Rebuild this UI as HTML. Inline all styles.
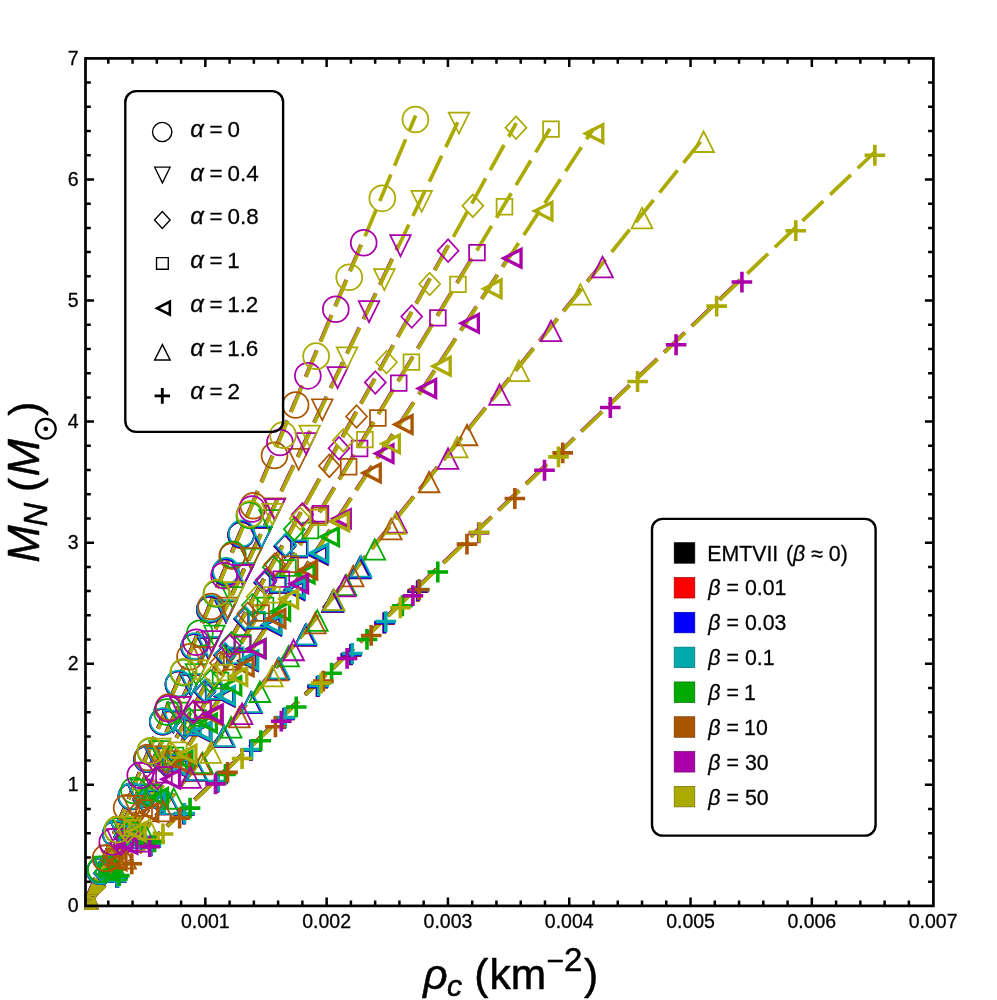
<!DOCTYPE html>
<html><head><meta charset="utf-8"><title>M_N vs rho_c</title>
<style>html,body{margin:0;padding:0;background:#fff;overflow:hidden}svg{display:block}text{font-family:"Liberation Sans",sans-serif;fill:#000;stroke:#000;stroke-width:.28px;stroke-linejoin:round}.ax text{stroke-width:.5px}.i{font-style:italic}</style></head><body>
<svg width="997" height="1000" viewBox="0 0 997 1000" style="will-change:transform">
<rect width="997" height="1000" fill="#fff"/>
<defs><clipPath id="pc"><rect x="84.4" y="55" width="852" height="854.8"/></clipPath></defs>
<g clip-path="url(#pc)">
<g fill="none" stroke-width="3.7" stroke-dasharray="28.7 9.45">
<path d="M84.19 904.38L240.87 530.92" stroke="#000000"/>
<path d="M84.19 904.54L259.25 537.34" stroke="#000000"/>
<path d="M84.19 904.69L284.58 541.7" stroke="#000000"/>
<path d="M84.19 904.77L297.45 548.96" stroke="#000000"/>
<path d="M84.19 904.85L316.7 550.17" stroke="#000000"/>
<path d="M84.19 905L356.31 567.73" stroke="#000000"/>
<path d="M84.19 905.16L417.93 586.98" stroke="#000000"/>
<path d="M84.19 904.38L240.94 530.75" stroke="#ff0000"/>
<path d="M84.19 904.54L259.34 537.17" stroke="#ff0000"/>
<path d="M84.19 904.69L284.67 541.53" stroke="#ff0000"/>
<path d="M84.19 904.77L297.55 548.79" stroke="#ff0000"/>
<path d="M84.19 904.85L316.81 550" stroke="#ff0000"/>
<path d="M84.19 905L356.45 567.56" stroke="#ff0000"/>
<path d="M84.19 905.16L418.1 586.81" stroke="#ff0000"/>
<path d="M84.19 904.38L241.08 530.42" stroke="#0000ff"/>
<path d="M84.19 904.54L259.49 536.84" stroke="#0000ff"/>
<path d="M84.19 904.69L284.85 541.2" stroke="#0000ff"/>
<path d="M84.19 904.77L297.74 548.46" stroke="#0000ff"/>
<path d="M84.19 904.85L317.02 549.67" stroke="#0000ff"/>
<path d="M84.19 905L356.72 567.23" stroke="#0000ff"/>
<path d="M84.19 905.16L418.45 586.48" stroke="#0000ff"/>
<path d="M84.19 904.38L241.56 529.27" stroke="#00aaaa"/>
<path d="M84.19 904.54L260.04 535.69" stroke="#00aaaa"/>
<path d="M84.19 904.69L285.49 540.05" stroke="#00aaaa"/>
<path d="M84.19 904.77L298.43 547.31" stroke="#00aaaa"/>
<path d="M84.19 904.85L317.78 548.52" stroke="#00aaaa"/>
<path d="M84.19 905L357.64 566.08" stroke="#00aaaa"/>
<path d="M84.19 905.16L419.65 585.33" stroke="#00aaaa"/>
<path d="M84.19 904.38L249.13 511.23" stroke="#00aa00"/>
<path d="M84.19 904.54L267.77 519.47" stroke="#00aa00"/>
<path d="M84.19 904.69L294.17 524.31" stroke="#00aa00"/>
<path d="M84.19 904.77L308.95 529.76" stroke="#00aa00"/>
<path d="M84.19 904.85L328.49 532.18" stroke="#00aa00"/>
<path d="M84.19 905L371.32 549.13" stroke="#00aa00"/>
<path d="M84.19 905.16L438.07 567.77" stroke="#00aa00"/>
<path d="M84.19 904.38L295.41 400.94" stroke="#aa5500"/>
<path d="M84.19 904.54L320.59 408.69" stroke="#aa5500"/>
<path d="M84.19 904.69L356.33 411.71" stroke="#aa5500"/>
<path d="M84.19 904.77L376.37 417.28" stroke="#aa5500"/>
<path d="M84.19 904.85L402.07 419.95" stroke="#aa5500"/>
<path d="M84.19 905L463.63 434.72" stroke="#aa5500"/>
<path d="M84.19 905.16L563.02 448.64" stroke="#aa5500"/>
<path d="M84.19 904.38L363.52 238.58" stroke="#aa00aa"/>
<path d="M84.19 904.54L398.8 244.64" stroke="#aa00aa"/>
<path d="M84.19 904.69L447.9 245.85" stroke="#aa00aa"/>
<path d="M84.19 904.77L475.49 251.9" stroke="#aa00aa"/>
<path d="M84.19 904.85L511.04 253.72" stroke="#aa00aa"/>
<path d="M84.19 905L599.12 266.79" stroke="#aa00aa"/>
<path d="M84.19 905.16L742.21 277.81" stroke="#aa00aa"/>
<path d="M84.59 904.6L415.63 115.56" stroke="#aaaa00"/>
<path d="M84.59 904.76L457.68 122.21" stroke="#aaaa00"/>
<path d="M84.59 904.91L516.2 123.06" stroke="#aaaa00"/>
<path d="M84.59 904.99L549.91 128.63" stroke="#aaaa00"/>
<path d="M84.59 905.07L593.19 129.24" stroke="#aaaa00"/>
<path d="M84.59 905.22L700.62 141.71" stroke="#aaaa00"/>
<path d="M84.59 905.38L875.56 151.27" stroke="#aaaa00"/>
</g>
<g>
<circle cx="84.39" cy="908.5" r="12.93" fill="none" stroke="#000000" stroke-width="1.75"/>
<circle cx="100.05" cy="871.15" r="12.93" fill="none" stroke="#000000" stroke-width="1.75"/>
<circle cx="115.72" cy="833.81" r="12.93" fill="none" stroke="#000000" stroke-width="1.75"/>
<circle cx="131.39" cy="796.46" r="12.93" fill="none" stroke="#000000" stroke-width="1.75"/>
<circle cx="147.06" cy="759.12" r="12.93" fill="none" stroke="#000000" stroke-width="1.75"/>
<circle cx="162.73" cy="721.77" r="12.93" fill="none" stroke="#000000" stroke-width="1.75"/>
<circle cx="178.4" cy="684.42" r="12.93" fill="none" stroke="#000000" stroke-width="1.75"/>
<circle cx="194.07" cy="647.08" r="12.93" fill="none" stroke="#000000" stroke-width="1.75"/>
<circle cx="209.74" cy="609.73" r="12.93" fill="none" stroke="#000000" stroke-width="1.75"/>
<circle cx="225.4" cy="572.39" r="12.93" fill="none" stroke="#000000" stroke-width="1.75"/>
<circle cx="241.07" cy="535.04" r="12.93" fill="none" stroke="#000000" stroke-width="1.75"/>
<polygon points="75.55,895.11 96.22,895.11 85.89,916.13" fill="none" stroke="#000000" stroke-width="1.7" stroke-linejoin="miter" stroke-miterlimit="10"/>
<polygon points="93.06,858.39 113.73,858.39 103.39,879.41" fill="none" stroke="#000000" stroke-width="1.7" stroke-linejoin="miter" stroke-miterlimit="10"/>
<polygon points="110.56,821.67 131.23,821.67 120.9,842.69" fill="none" stroke="#000000" stroke-width="1.7" stroke-linejoin="miter" stroke-miterlimit="10"/>
<polygon points="128.07,784.95 148.74,784.95 138.41,805.97" fill="none" stroke="#000000" stroke-width="1.7" stroke-linejoin="miter" stroke-miterlimit="10"/>
<polygon points="145.58,748.23 166.25,748.23 155.91,769.25" fill="none" stroke="#000000" stroke-width="1.7" stroke-linejoin="miter" stroke-miterlimit="10"/>
<polygon points="163.09,711.51 183.76,711.51 173.42,732.53" fill="none" stroke="#000000" stroke-width="1.7" stroke-linejoin="miter" stroke-miterlimit="10"/>
<polygon points="180.59,674.79 201.26,674.79 190.93,695.81" fill="none" stroke="#000000" stroke-width="1.7" stroke-linejoin="miter" stroke-miterlimit="10"/>
<polygon points="198.1,638.07 218.77,638.07 208.43,659.09" fill="none" stroke="#000000" stroke-width="1.7" stroke-linejoin="miter" stroke-miterlimit="10"/>
<polygon points="215.61,601.35 236.28,601.35 225.94,622.37" fill="none" stroke="#000000" stroke-width="1.7" stroke-linejoin="miter" stroke-miterlimit="10"/>
<polygon points="233.11,564.63 253.78,564.63 243.45,585.65" fill="none" stroke="#000000" stroke-width="1.7" stroke-linejoin="miter" stroke-miterlimit="10"/>
<polygon points="250.62,527.91 271.29,527.91 260.95,548.93" fill="none" stroke="#000000" stroke-width="1.7" stroke-linejoin="miter" stroke-miterlimit="10"/>
<polygon points="73.9,909.51 84.39,898.21 94.88,909.51 84.39,920.81" fill="none" stroke="#000000" stroke-width="1.7" stroke-linejoin="miter" stroke-miterlimit="10"/>
<polygon points="93.93,873.21 104.42,861.91 114.92,873.21 104.42,884.51" fill="none" stroke="#000000" stroke-width="1.7" stroke-linejoin="miter" stroke-miterlimit="10"/>
<polygon points="113.97,836.91 124.46,825.61 134.95,836.91 124.46,848.21" fill="none" stroke="#000000" stroke-width="1.7" stroke-linejoin="miter" stroke-miterlimit="10"/>
<polygon points="134.01,800.61 144.5,789.31 154.99,800.61 144.5,811.91" fill="none" stroke="#000000" stroke-width="1.7" stroke-linejoin="miter" stroke-miterlimit="10"/>
<polygon points="154.05,764.31 164.54,753.01 175.03,764.31 164.54,775.61" fill="none" stroke="#000000" stroke-width="1.7" stroke-linejoin="miter" stroke-miterlimit="10"/>
<polygon points="174.09,728.01 184.58,716.71 195.07,728.01 184.58,739.31" fill="none" stroke="#000000" stroke-width="1.7" stroke-linejoin="miter" stroke-miterlimit="10"/>
<polygon points="194.13,691.71 204.62,680.41 215.11,691.71 204.62,703.01" fill="none" stroke="#000000" stroke-width="1.7" stroke-linejoin="miter" stroke-miterlimit="10"/>
<polygon points="214.17,655.41 224.66,644.11 235.15,655.41 224.66,666.71" fill="none" stroke="#000000" stroke-width="1.7" stroke-linejoin="miter" stroke-miterlimit="10"/>
<polygon points="234.21,619.11 244.7,607.81 255.19,619.11 244.7,630.41" fill="none" stroke="#000000" stroke-width="1.7" stroke-linejoin="miter" stroke-miterlimit="10"/>
<polygon points="254.25,582.81 264.74,571.51 275.23,582.81 264.74,594.12" fill="none" stroke="#000000" stroke-width="1.7" stroke-linejoin="miter" stroke-miterlimit="10"/>
<polygon points="274.29,546.52 284.78,535.21 295.27,546.52 284.78,557.82" fill="none" stroke="#000000" stroke-width="1.7" stroke-linejoin="miter" stroke-miterlimit="10"/>
<polygon points="77.81,897.71 93.56,897.71 93.56,913.26 77.81,913.26" fill="none" stroke="#000000" stroke-width="1.75" stroke-linejoin="miter" stroke-miterlimit="10"/>
<polygon points="99.14,862.13 114.89,862.13 114.89,877.68 99.14,877.68" fill="none" stroke="#000000" stroke-width="1.75" stroke-linejoin="miter" stroke-miterlimit="10"/>
<polygon points="120.46,826.55 136.21,826.55 136.21,842.1 120.46,842.1" fill="none" stroke="#000000" stroke-width="1.75" stroke-linejoin="miter" stroke-miterlimit="10"/>
<polygon points="141.79,790.97 157.54,790.97 157.54,806.52 141.79,806.52" fill="none" stroke="#000000" stroke-width="1.75" stroke-linejoin="miter" stroke-miterlimit="10"/>
<polygon points="163.11,755.39 178.86,755.39 178.86,770.94 163.11,770.94" fill="none" stroke="#000000" stroke-width="1.75" stroke-linejoin="miter" stroke-miterlimit="10"/>
<polygon points="184.44,719.81 200.19,719.81 200.19,735.36 184.44,735.36" fill="none" stroke="#000000" stroke-width="1.75" stroke-linejoin="miter" stroke-miterlimit="10"/>
<polygon points="205.77,684.23 221.52,684.23 221.52,699.78 205.77,699.78" fill="none" stroke="#000000" stroke-width="1.75" stroke-linejoin="miter" stroke-miterlimit="10"/>
<polygon points="227.09,648.65 242.84,648.65 242.84,664.2 227.09,664.2" fill="none" stroke="#000000" stroke-width="1.75" stroke-linejoin="miter" stroke-miterlimit="10"/>
<polygon points="248.42,613.07 264.17,613.07 264.17,628.62 248.42,628.62" fill="none" stroke="#000000" stroke-width="1.75" stroke-linejoin="miter" stroke-miterlimit="10"/>
<polygon points="269.75,577.49 285.5,577.49 285.5,593.04 269.75,593.04" fill="none" stroke="#000000" stroke-width="1.75" stroke-linejoin="miter" stroke-miterlimit="10"/>
<polygon points="291.07,541.9 306.82,541.9 306.82,557.45 291.07,557.45" fill="none" stroke="#000000" stroke-width="1.75" stroke-linejoin="miter" stroke-miterlimit="10"/>
<polygon points="94.19,900.61 94.19,918.13 76.97,909.37" fill="none" stroke="#000000" stroke-width="3.3" stroke-linejoin="miter" stroke-miterlimit="10"/>
<polygon points="117.44,865.14 117.44,882.66 100.22,873.9" fill="none" stroke="#000000" stroke-width="3.3" stroke-linejoin="miter" stroke-miterlimit="10"/>
<polygon points="140.69,829.67 140.69,847.19 123.48,838.43" fill="none" stroke="#000000" stroke-width="3.3" stroke-linejoin="miter" stroke-miterlimit="10"/>
<polygon points="163.94,794.21 163.94,811.72 146.73,802.96" fill="none" stroke="#000000" stroke-width="3.3" stroke-linejoin="miter" stroke-miterlimit="10"/>
<polygon points="187.19,758.74 187.19,776.26 169.98,767.5" fill="none" stroke="#000000" stroke-width="3.3" stroke-linejoin="miter" stroke-miterlimit="10"/>
<polygon points="210.44,723.27 210.44,740.79 193.23,732.03" fill="none" stroke="#000000" stroke-width="3.3" stroke-linejoin="miter" stroke-miterlimit="10"/>
<polygon points="233.69,687.8 233.69,705.32 216.48,696.56" fill="none" stroke="#000000" stroke-width="3.3" stroke-linejoin="miter" stroke-miterlimit="10"/>
<polygon points="256.94,652.33 256.94,669.85 239.73,661.09" fill="none" stroke="#000000" stroke-width="3.3" stroke-linejoin="miter" stroke-miterlimit="10"/>
<polygon points="280.19,616.87 280.19,634.38 262.98,625.63" fill="none" stroke="#000000" stroke-width="3.3" stroke-linejoin="miter" stroke-miterlimit="10"/>
<polygon points="303.45,581.4 303.45,598.92 286.23,590.16" fill="none" stroke="#000000" stroke-width="3.3" stroke-linejoin="miter" stroke-miterlimit="10"/>
<polygon points="326.7,545.93 326.7,563.45 309.48,554.69" fill="none" stroke="#000000" stroke-width="3.3" stroke-linejoin="miter" stroke-miterlimit="10"/>
<polygon points="77.2,915.52 97.97,915.52 87.59,895.02" fill="none" stroke="#000000" stroke-width="1.8" stroke-linejoin="miter" stroke-miterlimit="10"/>
<polygon points="104.41,881.8 125.18,881.8 114.8,861.29" fill="none" stroke="#000000" stroke-width="1.8" stroke-linejoin="miter" stroke-miterlimit="10"/>
<polygon points="131.63,848.07 152.4,848.07 142.01,827.56" fill="none" stroke="#000000" stroke-width="1.8" stroke-linejoin="miter" stroke-miterlimit="10"/>
<polygon points="158.84,814.34 179.61,814.34 169.22,793.83" fill="none" stroke="#000000" stroke-width="1.8" stroke-linejoin="miter" stroke-miterlimit="10"/>
<polygon points="186.05,780.61 206.82,780.61 196.44,760.1" fill="none" stroke="#000000" stroke-width="1.8" stroke-linejoin="miter" stroke-miterlimit="10"/>
<polygon points="213.26,746.88 234.04,746.88 223.65,726.38" fill="none" stroke="#000000" stroke-width="1.8" stroke-linejoin="miter" stroke-miterlimit="10"/>
<polygon points="240.48,713.16 261.25,713.16 250.86,692.65" fill="none" stroke="#000000" stroke-width="1.8" stroke-linejoin="miter" stroke-miterlimit="10"/>
<polygon points="267.69,679.43 288.46,679.43 278.08,658.92" fill="none" stroke="#000000" stroke-width="1.8" stroke-linejoin="miter" stroke-miterlimit="10"/>
<polygon points="294.9,645.7 315.67,645.7 305.29,625.19" fill="none" stroke="#000000" stroke-width="1.8" stroke-linejoin="miter" stroke-miterlimit="10"/>
<polygon points="322.12,611.97 342.89,611.97 332.5,591.47" fill="none" stroke="#000000" stroke-width="1.8" stroke-linejoin="miter" stroke-miterlimit="10"/>
<polygon points="349.33,578.25 370.1,578.25 359.71,557.74" fill="none" stroke="#000000" stroke-width="1.8" stroke-linejoin="miter" stroke-miterlimit="10"/>
<path d="M73.59 909.38H94.19M83.89 898.98V919.78" fill="none" stroke="#000000" stroke-width="3.6"/>
<path d="M106.96 877.56H127.56M117.26 867.16V887.96" fill="none" stroke="#000000" stroke-width="3.6"/>
<path d="M140.33 845.74H160.93M150.63 835.34V856.14" fill="none" stroke="#000000" stroke-width="3.6"/>
<path d="M173.71 813.92H194.31M184.01 803.52V824.32" fill="none" stroke="#000000" stroke-width="3.6"/>
<path d="M207.08 782.11H227.68M217.38 771.71V792.51" fill="none" stroke="#000000" stroke-width="3.6"/>
<path d="M240.46 750.29H261.06M250.76 739.89V760.69" fill="none" stroke="#000000" stroke-width="3.6"/>
<path d="M273.83 718.47H294.43M284.13 708.07V728.87" fill="none" stroke="#000000" stroke-width="3.6"/>
<path d="M307.2 686.65H327.8M317.5 676.25V697.05" fill="none" stroke="#000000" stroke-width="3.6"/>
<path d="M340.58 654.83H361.18M350.88 644.43V665.23" fill="none" stroke="#000000" stroke-width="3.6"/>
<path d="M373.95 623.01H394.55M384.25 612.61V633.41" fill="none" stroke="#000000" stroke-width="3.6"/>
<path d="M407.33 591.2H427.93M417.63 580.8V601.6" fill="none" stroke="#000000" stroke-width="3.6"/>
<circle cx="84.39" cy="908.5" r="12.93" fill="none" stroke="#ff0000" stroke-width="1.75"/>
<circle cx="100.06" cy="871.14" r="12.93" fill="none" stroke="#ff0000" stroke-width="1.75"/>
<circle cx="115.74" cy="833.77" r="12.93" fill="none" stroke="#ff0000" stroke-width="1.75"/>
<circle cx="131.41" cy="796.41" r="12.93" fill="none" stroke="#ff0000" stroke-width="1.75"/>
<circle cx="147.09" cy="759.05" r="12.93" fill="none" stroke="#ff0000" stroke-width="1.75"/>
<circle cx="162.76" cy="721.68" r="12.93" fill="none" stroke="#ff0000" stroke-width="1.75"/>
<circle cx="178.44" cy="684.32" r="12.93" fill="none" stroke="#ff0000" stroke-width="1.75"/>
<circle cx="194.12" cy="646.96" r="12.93" fill="none" stroke="#ff0000" stroke-width="1.75"/>
<circle cx="209.79" cy="609.6" r="12.93" fill="none" stroke="#ff0000" stroke-width="1.75"/>
<circle cx="225.47" cy="572.23" r="12.93" fill="none" stroke="#ff0000" stroke-width="1.75"/>
<circle cx="241.14" cy="534.87" r="12.93" fill="none" stroke="#ff0000" stroke-width="1.75"/>
<polygon points="75.55,895.11 96.22,895.11 85.89,916.13" fill="none" stroke="#ff0000" stroke-width="1.7" stroke-linejoin="miter" stroke-miterlimit="10"/>
<polygon points="93.07,858.37 113.74,858.37 103.4,879.39" fill="none" stroke="#ff0000" stroke-width="1.7" stroke-linejoin="miter" stroke-miterlimit="10"/>
<polygon points="110.58,821.63 131.25,821.63 120.92,842.65" fill="none" stroke="#ff0000" stroke-width="1.7" stroke-linejoin="miter" stroke-miterlimit="10"/>
<polygon points="128.1,784.89 148.77,784.89 138.43,805.92" fill="none" stroke="#ff0000" stroke-width="1.7" stroke-linejoin="miter" stroke-miterlimit="10"/>
<polygon points="145.61,748.16 166.28,748.16 155.95,769.18" fill="none" stroke="#ff0000" stroke-width="1.7" stroke-linejoin="miter" stroke-miterlimit="10"/>
<polygon points="163.13,711.42 183.8,711.42 173.46,732.44" fill="none" stroke="#ff0000" stroke-width="1.7" stroke-linejoin="miter" stroke-miterlimit="10"/>
<polygon points="180.64,674.68 201.31,674.68 190.98,695.71" fill="none" stroke="#ff0000" stroke-width="1.7" stroke-linejoin="miter" stroke-miterlimit="10"/>
<polygon points="198.16,637.95 218.83,637.95 208.49,658.97" fill="none" stroke="#ff0000" stroke-width="1.7" stroke-linejoin="miter" stroke-miterlimit="10"/>
<polygon points="215.67,601.21 236.34,601.21 226.01,622.23" fill="none" stroke="#ff0000" stroke-width="1.7" stroke-linejoin="miter" stroke-miterlimit="10"/>
<polygon points="233.19,564.47 253.86,564.47 243.52,585.5" fill="none" stroke="#ff0000" stroke-width="1.7" stroke-linejoin="miter" stroke-miterlimit="10"/>
<polygon points="250.7,527.74 271.37,527.74 261.04,548.76" fill="none" stroke="#ff0000" stroke-width="1.7" stroke-linejoin="miter" stroke-miterlimit="10"/>
<polygon points="73.9,909.51 84.39,898.21 94.88,909.51 84.39,920.81" fill="none" stroke="#ff0000" stroke-width="1.7" stroke-linejoin="miter" stroke-miterlimit="10"/>
<polygon points="93.94,873.19 104.43,861.89 114.92,873.19 104.43,884.5" fill="none" stroke="#ff0000" stroke-width="1.7" stroke-linejoin="miter" stroke-miterlimit="10"/>
<polygon points="113.99,836.88 124.48,825.58 134.97,836.88 124.48,848.18" fill="none" stroke="#ff0000" stroke-width="1.7" stroke-linejoin="miter" stroke-miterlimit="10"/>
<polygon points="134.04,800.56 144.53,789.26 155.02,800.56 144.53,811.86" fill="none" stroke="#ff0000" stroke-width="1.7" stroke-linejoin="miter" stroke-miterlimit="10"/>
<polygon points="154.09,764.24 164.58,752.94 175.07,764.24 164.58,775.55" fill="none" stroke="#ff0000" stroke-width="1.7" stroke-linejoin="miter" stroke-miterlimit="10"/>
<polygon points="174.14,727.93 184.63,716.63 195.12,727.93 184.63,739.23" fill="none" stroke="#ff0000" stroke-width="1.7" stroke-linejoin="miter" stroke-miterlimit="10"/>
<polygon points="194.19,691.61 204.68,680.31 215.17,691.61 204.68,702.91" fill="none" stroke="#ff0000" stroke-width="1.7" stroke-linejoin="miter" stroke-miterlimit="10"/>
<polygon points="214.23,655.3 224.73,643.99 235.22,655.3 224.73,666.6" fill="none" stroke="#ff0000" stroke-width="1.7" stroke-linejoin="miter" stroke-miterlimit="10"/>
<polygon points="234.28,618.98 244.77,607.68 255.26,618.98 244.77,630.28" fill="none" stroke="#ff0000" stroke-width="1.7" stroke-linejoin="miter" stroke-miterlimit="10"/>
<polygon points="254.33,582.66 264.82,571.36 275.31,582.66 264.82,593.96" fill="none" stroke="#ff0000" stroke-width="1.7" stroke-linejoin="miter" stroke-miterlimit="10"/>
<polygon points="274.38,546.35 284.87,535.05 295.36,546.35 284.87,557.65" fill="none" stroke="#ff0000" stroke-width="1.7" stroke-linejoin="miter" stroke-miterlimit="10"/>
<polygon points="77.81,897.71 93.56,897.71 93.56,913.26 77.81,913.26" fill="none" stroke="#ff0000" stroke-width="1.75" stroke-linejoin="miter" stroke-miterlimit="10"/>
<polygon points="99.15,862.12 114.9,862.12 114.9,877.67 99.15,877.67" fill="none" stroke="#ff0000" stroke-width="1.75" stroke-linejoin="miter" stroke-miterlimit="10"/>
<polygon points="120.48,826.52 136.23,826.52 136.23,842.07 120.48,842.07" fill="none" stroke="#ff0000" stroke-width="1.75" stroke-linejoin="miter" stroke-miterlimit="10"/>
<polygon points="141.82,790.92 157.57,790.92 157.57,806.47 141.82,806.47" fill="none" stroke="#ff0000" stroke-width="1.75" stroke-linejoin="miter" stroke-miterlimit="10"/>
<polygon points="163.16,755.32 178.91,755.32 178.91,770.87 163.16,770.87" fill="none" stroke="#ff0000" stroke-width="1.75" stroke-linejoin="miter" stroke-miterlimit="10"/>
<polygon points="184.49,719.72 200.24,719.72 200.24,735.27 184.49,735.27" fill="none" stroke="#ff0000" stroke-width="1.75" stroke-linejoin="miter" stroke-miterlimit="10"/>
<polygon points="205.83,684.13 221.58,684.13 221.58,699.68 205.83,699.68" fill="none" stroke="#ff0000" stroke-width="1.75" stroke-linejoin="miter" stroke-miterlimit="10"/>
<polygon points="227.16,648.53 242.91,648.53 242.91,664.08 227.16,664.08" fill="none" stroke="#ff0000" stroke-width="1.75" stroke-linejoin="miter" stroke-miterlimit="10"/>
<polygon points="248.5,612.93 264.25,612.93 264.25,628.48 248.5,628.48" fill="none" stroke="#ff0000" stroke-width="1.75" stroke-linejoin="miter" stroke-miterlimit="10"/>
<polygon points="269.84,577.33 285.59,577.33 285.59,592.88 269.84,592.88" fill="none" stroke="#ff0000" stroke-width="1.75" stroke-linejoin="miter" stroke-miterlimit="10"/>
<polygon points="291.17,541.73 306.92,541.73 306.92,557.28 291.17,557.28" fill="none" stroke="#ff0000" stroke-width="1.75" stroke-linejoin="miter" stroke-miterlimit="10"/>
<polygon points="94.19,900.61 94.19,918.13 76.97,909.37" fill="none" stroke="#ff0000" stroke-width="3.3" stroke-linejoin="miter" stroke-miterlimit="10"/>
<polygon points="117.45,865.12 117.45,882.64 100.24,873.88" fill="none" stroke="#ff0000" stroke-width="3.3" stroke-linejoin="miter" stroke-miterlimit="10"/>
<polygon points="140.71,829.64 140.71,847.16 123.5,838.4" fill="none" stroke="#ff0000" stroke-width="3.3" stroke-linejoin="miter" stroke-miterlimit="10"/>
<polygon points="163.97,794.15 163.97,811.67 146.76,802.91" fill="none" stroke="#ff0000" stroke-width="3.3" stroke-linejoin="miter" stroke-miterlimit="10"/>
<polygon points="187.23,758.67 187.23,776.19 170.02,767.43" fill="none" stroke="#ff0000" stroke-width="3.3" stroke-linejoin="miter" stroke-miterlimit="10"/>
<polygon points="210.5,723.18 210.5,740.7 193.28,731.94" fill="none" stroke="#ff0000" stroke-width="3.3" stroke-linejoin="miter" stroke-miterlimit="10"/>
<polygon points="233.76,687.7 233.76,705.22 216.55,696.46" fill="none" stroke="#ff0000" stroke-width="3.3" stroke-linejoin="miter" stroke-miterlimit="10"/>
<polygon points="257.02,652.22 257.02,669.73 239.81,660.97" fill="none" stroke="#ff0000" stroke-width="3.3" stroke-linejoin="miter" stroke-miterlimit="10"/>
<polygon points="280.28,616.73 280.28,634.25 263.07,625.49" fill="none" stroke="#ff0000" stroke-width="3.3" stroke-linejoin="miter" stroke-miterlimit="10"/>
<polygon points="303.55,581.25 303.55,598.76 286.33,590.01" fill="none" stroke="#ff0000" stroke-width="3.3" stroke-linejoin="miter" stroke-miterlimit="10"/>
<polygon points="326.81,545.76 326.81,563.28 309.6,554.52" fill="none" stroke="#ff0000" stroke-width="3.3" stroke-linejoin="miter" stroke-miterlimit="10"/>
<polygon points="77.2,915.52 97.97,915.52 87.59,895.02" fill="none" stroke="#ff0000" stroke-width="1.8" stroke-linejoin="miter" stroke-miterlimit="10"/>
<polygon points="104.43,881.78 125.2,881.78 114.81,861.27" fill="none" stroke="#ff0000" stroke-width="1.8" stroke-linejoin="miter" stroke-miterlimit="10"/>
<polygon points="131.65,848.03 152.42,848.03 142.04,827.53" fill="none" stroke="#ff0000" stroke-width="1.8" stroke-linejoin="miter" stroke-miterlimit="10"/>
<polygon points="158.88,814.29 179.65,814.29 169.27,793.78" fill="none" stroke="#ff0000" stroke-width="1.8" stroke-linejoin="miter" stroke-miterlimit="10"/>
<polygon points="186.11,780.54 206.88,780.54 196.49,760.04" fill="none" stroke="#ff0000" stroke-width="1.8" stroke-linejoin="miter" stroke-miterlimit="10"/>
<polygon points="213.33,746.8 234.1,746.8 223.72,726.29" fill="none" stroke="#ff0000" stroke-width="1.8" stroke-linejoin="miter" stroke-miterlimit="10"/>
<polygon points="240.56,713.05 261.33,713.05 250.95,692.55" fill="none" stroke="#ff0000" stroke-width="1.8" stroke-linejoin="miter" stroke-miterlimit="10"/>
<polygon points="267.79,679.31 288.56,679.31 278.17,658.8" fill="none" stroke="#ff0000" stroke-width="1.8" stroke-linejoin="miter" stroke-miterlimit="10"/>
<polygon points="295.01,645.57 315.78,645.57 305.4,625.06" fill="none" stroke="#ff0000" stroke-width="1.8" stroke-linejoin="miter" stroke-miterlimit="10"/>
<polygon points="322.24,611.82 343.01,611.82 332.63,591.31" fill="none" stroke="#ff0000" stroke-width="1.8" stroke-linejoin="miter" stroke-miterlimit="10"/>
<polygon points="349.47,578.08 370.24,578.08 359.85,557.57" fill="none" stroke="#ff0000" stroke-width="1.8" stroke-linejoin="miter" stroke-miterlimit="10"/>
<path d="M73.59 909.38H94.19M83.89 898.98V919.78" fill="none" stroke="#ff0000" stroke-width="3.6"/>
<path d="M106.98 877.54H127.58M117.28 867.14V887.94" fill="none" stroke="#ff0000" stroke-width="3.6"/>
<path d="M140.37 845.71H160.97M150.67 835.31V856.11" fill="none" stroke="#ff0000" stroke-width="3.6"/>
<path d="M173.76 813.87H194.36M184.06 803.47V824.27" fill="none" stroke="#ff0000" stroke-width="3.6"/>
<path d="M207.15 782.04H227.75M217.45 771.64V792.44" fill="none" stroke="#ff0000" stroke-width="3.6"/>
<path d="M240.54 750.2H261.14M250.84 739.8V760.6" fill="none" stroke="#ff0000" stroke-width="3.6"/>
<path d="M273.94 718.37H294.54M284.24 707.97V728.77" fill="none" stroke="#ff0000" stroke-width="3.6"/>
<path d="M307.33 686.53H327.93M317.63 676.13V696.93" fill="none" stroke="#ff0000" stroke-width="3.6"/>
<path d="M340.72 654.7H361.32M351.02 644.3V665.1" fill="none" stroke="#ff0000" stroke-width="3.6"/>
<path d="M374.11 622.86H394.71M384.41 612.46V633.26" fill="none" stroke="#ff0000" stroke-width="3.6"/>
<path d="M407.5 591.03H428.1M417.8 580.63V601.43" fill="none" stroke="#ff0000" stroke-width="3.6"/>
<circle cx="84.39" cy="908.5" r="12.93" fill="none" stroke="#0000ff" stroke-width="1.75"/>
<circle cx="100.08" cy="871.1" r="12.93" fill="none" stroke="#0000ff" stroke-width="1.75"/>
<circle cx="115.76" cy="833.71" r="12.93" fill="none" stroke="#0000ff" stroke-width="1.75"/>
<circle cx="131.45" cy="796.31" r="12.93" fill="none" stroke="#0000ff" stroke-width="1.75"/>
<circle cx="147.14" cy="758.92" r="12.93" fill="none" stroke="#0000ff" stroke-width="1.75"/>
<circle cx="162.83" cy="721.52" r="12.93" fill="none" stroke="#0000ff" stroke-width="1.75"/>
<circle cx="178.52" cy="684.13" r="12.93" fill="none" stroke="#0000ff" stroke-width="1.75"/>
<circle cx="194.21" cy="646.73" r="12.93" fill="none" stroke="#0000ff" stroke-width="1.75"/>
<circle cx="209.9" cy="609.33" r="12.93" fill="none" stroke="#0000ff" stroke-width="1.75"/>
<circle cx="225.59" cy="571.94" r="12.93" fill="none" stroke="#0000ff" stroke-width="1.75"/>
<circle cx="241.28" cy="534.54" r="12.93" fill="none" stroke="#0000ff" stroke-width="1.75"/>
<polygon points="75.55,895.11 96.22,895.11 85.89,916.13" fill="none" stroke="#0000ff" stroke-width="1.7" stroke-linejoin="miter" stroke-miterlimit="10"/>
<polygon points="93.08,858.34 113.75,858.34 103.42,879.36" fill="none" stroke="#0000ff" stroke-width="1.7" stroke-linejoin="miter" stroke-miterlimit="10"/>
<polygon points="110.61,821.57 131.28,821.57 120.95,842.59" fill="none" stroke="#0000ff" stroke-width="1.7" stroke-linejoin="miter" stroke-miterlimit="10"/>
<polygon points="128.14,784.8 148.81,784.8 138.48,805.82" fill="none" stroke="#0000ff" stroke-width="1.7" stroke-linejoin="miter" stroke-miterlimit="10"/>
<polygon points="145.67,748.03 166.34,748.03 156.01,769.05" fill="none" stroke="#0000ff" stroke-width="1.7" stroke-linejoin="miter" stroke-miterlimit="10"/>
<polygon points="163.2,711.26 183.87,711.26 173.54,732.28" fill="none" stroke="#0000ff" stroke-width="1.7" stroke-linejoin="miter" stroke-miterlimit="10"/>
<polygon points="180.73,674.49 201.4,674.49 191.07,695.51" fill="none" stroke="#0000ff" stroke-width="1.7" stroke-linejoin="miter" stroke-miterlimit="10"/>
<polygon points="198.26,637.72 218.93,637.72 208.6,658.74" fill="none" stroke="#0000ff" stroke-width="1.7" stroke-linejoin="miter" stroke-miterlimit="10"/>
<polygon points="215.8,600.95 236.47,600.95 226.13,621.97" fill="none" stroke="#0000ff" stroke-width="1.7" stroke-linejoin="miter" stroke-miterlimit="10"/>
<polygon points="233.33,564.18 254,564.18 243.66,585.2" fill="none" stroke="#0000ff" stroke-width="1.7" stroke-linejoin="miter" stroke-miterlimit="10"/>
<polygon points="250.86,527.41 271.53,527.41 261.19,548.43" fill="none" stroke="#0000ff" stroke-width="1.7" stroke-linejoin="miter" stroke-miterlimit="10"/>
<polygon points="73.9,909.51 84.39,898.21 94.88,909.51 84.39,920.81" fill="none" stroke="#0000ff" stroke-width="1.7" stroke-linejoin="miter" stroke-miterlimit="10"/>
<polygon points="93.96,873.16 104.45,861.86 114.94,873.16 104.45,884.46" fill="none" stroke="#0000ff" stroke-width="1.7" stroke-linejoin="miter" stroke-miterlimit="10"/>
<polygon points="114.03,836.81 124.52,825.51 135.01,836.81 124.52,848.11" fill="none" stroke="#0000ff" stroke-width="1.7" stroke-linejoin="miter" stroke-miterlimit="10"/>
<polygon points="134.1,800.46 144.59,789.16 155.08,800.46 144.59,811.76" fill="none" stroke="#0000ff" stroke-width="1.7" stroke-linejoin="miter" stroke-miterlimit="10"/>
<polygon points="154.16,764.11 164.65,752.81 175.14,764.11 164.65,775.41" fill="none" stroke="#0000ff" stroke-width="1.7" stroke-linejoin="miter" stroke-miterlimit="10"/>
<polygon points="174.23,727.76 184.72,716.46 195.21,727.76 184.72,739.07" fill="none" stroke="#0000ff" stroke-width="1.7" stroke-linejoin="miter" stroke-miterlimit="10"/>
<polygon points="194.29,691.42 204.78,680.12 215.28,691.42 204.78,702.72" fill="none" stroke="#0000ff" stroke-width="1.7" stroke-linejoin="miter" stroke-miterlimit="10"/>
<polygon points="214.36,655.07 224.85,643.77 235.34,655.07 224.85,666.37" fill="none" stroke="#0000ff" stroke-width="1.7" stroke-linejoin="miter" stroke-miterlimit="10"/>
<polygon points="234.43,618.72 244.92,607.42 255.41,618.72 244.92,630.02" fill="none" stroke="#0000ff" stroke-width="1.7" stroke-linejoin="miter" stroke-miterlimit="10"/>
<polygon points="254.49,582.37 264.98,571.07 275.47,582.37 264.98,593.67" fill="none" stroke="#0000ff" stroke-width="1.7" stroke-linejoin="miter" stroke-miterlimit="10"/>
<polygon points="274.56,546.02 285.05,534.72 295.54,546.02 285.05,557.32" fill="none" stroke="#0000ff" stroke-width="1.7" stroke-linejoin="miter" stroke-miterlimit="10"/>
<polygon points="77.81,897.71 93.56,897.71 93.56,913.26 77.81,913.26" fill="none" stroke="#0000ff" stroke-width="1.75" stroke-linejoin="miter" stroke-miterlimit="10"/>
<polygon points="99.17,862.08 114.92,862.08 114.92,877.63 99.17,877.63" fill="none" stroke="#0000ff" stroke-width="1.75" stroke-linejoin="miter" stroke-miterlimit="10"/>
<polygon points="120.52,826.45 136.27,826.45 136.27,842 120.52,842" fill="none" stroke="#0000ff" stroke-width="1.75" stroke-linejoin="miter" stroke-miterlimit="10"/>
<polygon points="141.88,790.82 157.63,790.82 157.63,806.37 141.88,806.37" fill="none" stroke="#0000ff" stroke-width="1.75" stroke-linejoin="miter" stroke-miterlimit="10"/>
<polygon points="163.23,755.19 178.98,755.19 178.98,770.74 163.23,770.74" fill="none" stroke="#0000ff" stroke-width="1.75" stroke-linejoin="miter" stroke-miterlimit="10"/>
<polygon points="184.59,719.56 200.34,719.56 200.34,735.11 184.59,735.11" fill="none" stroke="#0000ff" stroke-width="1.75" stroke-linejoin="miter" stroke-miterlimit="10"/>
<polygon points="205.95,683.93 221.7,683.93 221.7,699.48 205.95,699.48" fill="none" stroke="#0000ff" stroke-width="1.75" stroke-linejoin="miter" stroke-miterlimit="10"/>
<polygon points="227.3,648.3 243.05,648.3 243.05,663.85 227.3,663.85" fill="none" stroke="#0000ff" stroke-width="1.75" stroke-linejoin="miter" stroke-miterlimit="10"/>
<polygon points="248.66,612.67 264.41,612.67 264.41,628.22 248.66,628.22" fill="none" stroke="#0000ff" stroke-width="1.75" stroke-linejoin="miter" stroke-miterlimit="10"/>
<polygon points="270.01,577.04 285.76,577.04 285.76,592.59 270.01,592.59" fill="none" stroke="#0000ff" stroke-width="1.75" stroke-linejoin="miter" stroke-miterlimit="10"/>
<polygon points="291.37,541.41 307.12,541.41 307.12,556.96 291.37,556.96" fill="none" stroke="#0000ff" stroke-width="1.75" stroke-linejoin="miter" stroke-miterlimit="10"/>
<polygon points="94.19,900.61 94.19,918.13 76.97,909.37" fill="none" stroke="#0000ff" stroke-width="3.3" stroke-linejoin="miter" stroke-miterlimit="10"/>
<polygon points="117.47,865.09 117.47,882.61 100.26,873.85" fill="none" stroke="#0000ff" stroke-width="3.3" stroke-linejoin="miter" stroke-miterlimit="10"/>
<polygon points="140.75,829.57 140.75,847.09 123.54,838.33" fill="none" stroke="#0000ff" stroke-width="3.3" stroke-linejoin="miter" stroke-miterlimit="10"/>
<polygon points="164.04,794.06 164.04,811.57 146.82,802.82" fill="none" stroke="#0000ff" stroke-width="3.3" stroke-linejoin="miter" stroke-miterlimit="10"/>
<polygon points="187.32,758.54 187.32,776.06 170.11,767.3" fill="none" stroke="#0000ff" stroke-width="3.3" stroke-linejoin="miter" stroke-miterlimit="10"/>
<polygon points="210.6,723.02 210.6,740.54 193.39,731.78" fill="none" stroke="#0000ff" stroke-width="3.3" stroke-linejoin="miter" stroke-miterlimit="10"/>
<polygon points="233.89,687.5 233.89,705.02 216.68,696.26" fill="none" stroke="#0000ff" stroke-width="3.3" stroke-linejoin="miter" stroke-miterlimit="10"/>
<polygon points="257.17,651.99 257.17,669.5 239.96,660.75" fill="none" stroke="#0000ff" stroke-width="3.3" stroke-linejoin="miter" stroke-miterlimit="10"/>
<polygon points="280.45,616.47 280.45,633.99 263.24,625.23" fill="none" stroke="#0000ff" stroke-width="3.3" stroke-linejoin="miter" stroke-miterlimit="10"/>
<polygon points="303.74,580.95 303.74,598.47 286.53,589.71" fill="none" stroke="#0000ff" stroke-width="3.3" stroke-linejoin="miter" stroke-miterlimit="10"/>
<polygon points="327.02,545.43 327.02,562.95 309.81,554.19" fill="none" stroke="#0000ff" stroke-width="3.3" stroke-linejoin="miter" stroke-miterlimit="10"/>
<polygon points="77.2,915.52 97.97,915.52 87.59,895.02" fill="none" stroke="#0000ff" stroke-width="1.8" stroke-linejoin="miter" stroke-miterlimit="10"/>
<polygon points="104.45,881.75 125.22,881.75 114.84,861.24" fill="none" stroke="#0000ff" stroke-width="1.8" stroke-linejoin="miter" stroke-miterlimit="10"/>
<polygon points="131.71,847.97 152.48,847.97 142.09,827.46" fill="none" stroke="#0000ff" stroke-width="1.8" stroke-linejoin="miter" stroke-miterlimit="10"/>
<polygon points="158.96,814.19 179.73,814.19 169.34,793.68" fill="none" stroke="#0000ff" stroke-width="1.8" stroke-linejoin="miter" stroke-miterlimit="10"/>
<polygon points="186.21,780.41 206.98,780.41 196.6,759.91" fill="none" stroke="#0000ff" stroke-width="1.8" stroke-linejoin="miter" stroke-miterlimit="10"/>
<polygon points="213.47,746.64 234.24,746.64 223.85,726.13" fill="none" stroke="#0000ff" stroke-width="1.8" stroke-linejoin="miter" stroke-miterlimit="10"/>
<polygon points="240.72,712.86 261.49,712.86 251.1,692.35" fill="none" stroke="#0000ff" stroke-width="1.8" stroke-linejoin="miter" stroke-miterlimit="10"/>
<polygon points="267.97,679.08 288.74,679.08 278.36,658.57" fill="none" stroke="#0000ff" stroke-width="1.8" stroke-linejoin="miter" stroke-miterlimit="10"/>
<polygon points="295.22,645.3 315.99,645.3 305.61,624.8" fill="none" stroke="#0000ff" stroke-width="1.8" stroke-linejoin="miter" stroke-miterlimit="10"/>
<polygon points="322.48,611.53 343.25,611.53 332.86,591.02" fill="none" stroke="#0000ff" stroke-width="1.8" stroke-linejoin="miter" stroke-miterlimit="10"/>
<polygon points="349.73,577.75 370.5,577.75 360.12,557.24" fill="none" stroke="#0000ff" stroke-width="1.8" stroke-linejoin="miter" stroke-miterlimit="10"/>
<path d="M73.59 909.38H94.19M83.89 898.98V919.78" fill="none" stroke="#0000ff" stroke-width="3.6"/>
<path d="M107.01 877.51H127.61M117.31 867.11V887.91" fill="none" stroke="#0000ff" stroke-width="3.6"/>
<path d="M140.44 845.64H161.04M150.74 835.24V856.04" fill="none" stroke="#0000ff" stroke-width="3.6"/>
<path d="M173.86 813.78H194.46M184.16 803.38V824.18" fill="none" stroke="#0000ff" stroke-width="3.6"/>
<path d="M207.29 781.91H227.89M217.59 771.51V792.31" fill="none" stroke="#0000ff" stroke-width="3.6"/>
<path d="M240.72 750.04H261.32M251.02 739.64V760.44" fill="none" stroke="#0000ff" stroke-width="3.6"/>
<path d="M274.14 718.17H294.74M284.44 707.77V728.57" fill="none" stroke="#0000ff" stroke-width="3.6"/>
<path d="M307.57 686.3H328.17M317.87 675.9V696.7" fill="none" stroke="#0000ff" stroke-width="3.6"/>
<path d="M340.99 654.44H361.59M351.29 644.04V664.84" fill="none" stroke="#0000ff" stroke-width="3.6"/>
<path d="M374.42 622.57H395.02M384.72 612.17V632.97" fill="none" stroke="#0000ff" stroke-width="3.6"/>
<path d="M407.85 590.7H428.45M418.15 580.3V601.1" fill="none" stroke="#0000ff" stroke-width="3.6"/>
<circle cx="84.39" cy="908.5" r="12.93" fill="none" stroke="#00aaaa" stroke-width="1.75"/>
<circle cx="100.12" cy="870.99" r="12.93" fill="none" stroke="#00aaaa" stroke-width="1.75"/>
<circle cx="115.86" cy="833.48" r="12.93" fill="none" stroke="#00aaaa" stroke-width="1.75"/>
<circle cx="131.6" cy="795.97" r="12.93" fill="none" stroke="#00aaaa" stroke-width="1.75"/>
<circle cx="147.34" cy="758.46" r="12.93" fill="none" stroke="#00aaaa" stroke-width="1.75"/>
<circle cx="163.07" cy="720.95" r="12.93" fill="none" stroke="#00aaaa" stroke-width="1.75"/>
<circle cx="178.81" cy="683.44" r="12.93" fill="none" stroke="#00aaaa" stroke-width="1.75"/>
<circle cx="194.55" cy="645.93" r="12.93" fill="none" stroke="#00aaaa" stroke-width="1.75"/>
<circle cx="210.29" cy="608.41" r="12.93" fill="none" stroke="#00aaaa" stroke-width="1.75"/>
<circle cx="226.03" cy="570.9" r="12.93" fill="none" stroke="#00aaaa" stroke-width="1.75"/>
<circle cx="241.76" cy="533.39" r="12.93" fill="none" stroke="#00aaaa" stroke-width="1.75"/>
<polygon points="75.55,895.11 96.22,895.11 85.89,916.13" fill="none" stroke="#00aaaa" stroke-width="1.7" stroke-linejoin="miter" stroke-miterlimit="10"/>
<polygon points="93.14,858.22 113.81,858.22 103.47,879.24" fill="none" stroke="#00aaaa" stroke-width="1.7" stroke-linejoin="miter" stroke-miterlimit="10"/>
<polygon points="110.72,821.34 131.39,821.34 121.06,842.36" fill="none" stroke="#00aaaa" stroke-width="1.7" stroke-linejoin="miter" stroke-miterlimit="10"/>
<polygon points="128.31,784.45 148.98,784.45 138.64,805.47" fill="none" stroke="#00aaaa" stroke-width="1.7" stroke-linejoin="miter" stroke-miterlimit="10"/>
<polygon points="145.89,747.57 166.56,747.57 156.23,768.59" fill="none" stroke="#00aaaa" stroke-width="1.7" stroke-linejoin="miter" stroke-miterlimit="10"/>
<polygon points="163.48,710.68 184.15,710.68 173.81,731.71" fill="none" stroke="#00aaaa" stroke-width="1.7" stroke-linejoin="miter" stroke-miterlimit="10"/>
<polygon points="181.06,673.8 201.73,673.8 191.4,694.82" fill="none" stroke="#00aaaa" stroke-width="1.7" stroke-linejoin="miter" stroke-miterlimit="10"/>
<polygon points="198.65,636.91 219.32,636.91 208.98,657.94" fill="none" stroke="#00aaaa" stroke-width="1.7" stroke-linejoin="miter" stroke-miterlimit="10"/>
<polygon points="216.23,600.03 236.9,600.03 226.57,621.05" fill="none" stroke="#00aaaa" stroke-width="1.7" stroke-linejoin="miter" stroke-miterlimit="10"/>
<polygon points="233.82,563.14 254.49,563.14 244.15,584.17" fill="none" stroke="#00aaaa" stroke-width="1.7" stroke-linejoin="miter" stroke-miterlimit="10"/>
<polygon points="251.4,526.26 272.07,526.26 261.74,547.28" fill="none" stroke="#00aaaa" stroke-width="1.7" stroke-linejoin="miter" stroke-miterlimit="10"/>
<polygon points="73.9,909.51 84.39,898.21 94.88,909.51 84.39,920.81" fill="none" stroke="#00aaaa" stroke-width="1.7" stroke-linejoin="miter" stroke-miterlimit="10"/>
<polygon points="94.03,873.05 104.52,861.75 115.01,873.05 104.52,884.35" fill="none" stroke="#00aaaa" stroke-width="1.7" stroke-linejoin="miter" stroke-miterlimit="10"/>
<polygon points="114.16,836.58 124.65,825.28 135.14,836.58 124.65,847.88" fill="none" stroke="#00aaaa" stroke-width="1.7" stroke-linejoin="miter" stroke-miterlimit="10"/>
<polygon points="134.29,800.12 144.78,788.82 155.27,800.12 144.78,811.42" fill="none" stroke="#00aaaa" stroke-width="1.7" stroke-linejoin="miter" stroke-miterlimit="10"/>
<polygon points="154.42,763.65 164.91,752.35 175.4,763.65 164.91,774.95" fill="none" stroke="#00aaaa" stroke-width="1.7" stroke-linejoin="miter" stroke-miterlimit="10"/>
<polygon points="174.55,727.19 185.04,715.89 195.53,727.19 185.04,738.49" fill="none" stroke="#00aaaa" stroke-width="1.7" stroke-linejoin="miter" stroke-miterlimit="10"/>
<polygon points="194.68,690.73 205.17,679.43 215.66,690.73 205.17,702.03" fill="none" stroke="#00aaaa" stroke-width="1.7" stroke-linejoin="miter" stroke-miterlimit="10"/>
<polygon points="214.81,654.26 225.3,642.96 235.79,654.26 225.3,665.56" fill="none" stroke="#00aaaa" stroke-width="1.7" stroke-linejoin="miter" stroke-miterlimit="10"/>
<polygon points="234.94,617.8 245.43,606.5 255.92,617.8 245.43,629.1" fill="none" stroke="#00aaaa" stroke-width="1.7" stroke-linejoin="miter" stroke-miterlimit="10"/>
<polygon points="255.07,581.33 265.56,570.03 276.05,581.33 265.56,592.63" fill="none" stroke="#00aaaa" stroke-width="1.7" stroke-linejoin="miter" stroke-miterlimit="10"/>
<polygon points="275.2,544.87 285.69,533.57 296.18,544.87 285.69,556.17" fill="none" stroke="#00aaaa" stroke-width="1.7" stroke-linejoin="miter" stroke-miterlimit="10"/>
<polygon points="77.81,897.71 93.56,897.71 93.56,913.26 77.81,913.26" fill="none" stroke="#00aaaa" stroke-width="1.75" stroke-linejoin="miter" stroke-miterlimit="10"/>
<polygon points="99.24,861.97 114.99,861.97 114.99,877.52 99.24,877.52" fill="none" stroke="#00aaaa" stroke-width="1.75" stroke-linejoin="miter" stroke-miterlimit="10"/>
<polygon points="120.66,826.22 136.41,826.22 136.41,841.77 120.66,841.77" fill="none" stroke="#00aaaa" stroke-width="1.75" stroke-linejoin="miter" stroke-miterlimit="10"/>
<polygon points="142.08,790.48 157.83,790.48 157.83,806.03 142.08,806.03" fill="none" stroke="#00aaaa" stroke-width="1.75" stroke-linejoin="miter" stroke-miterlimit="10"/>
<polygon points="163.51,754.73 179.26,754.73 179.26,770.28 163.51,770.28" fill="none" stroke="#00aaaa" stroke-width="1.75" stroke-linejoin="miter" stroke-miterlimit="10"/>
<polygon points="184.93,718.99 200.68,718.99 200.68,734.54 184.93,734.54" fill="none" stroke="#00aaaa" stroke-width="1.75" stroke-linejoin="miter" stroke-miterlimit="10"/>
<polygon points="206.36,683.24 222.11,683.24 222.11,698.79 206.36,698.79" fill="none" stroke="#00aaaa" stroke-width="1.75" stroke-linejoin="miter" stroke-miterlimit="10"/>
<polygon points="227.78,647.49 243.53,647.49 243.53,663.04 227.78,663.04" fill="none" stroke="#00aaaa" stroke-width="1.75" stroke-linejoin="miter" stroke-miterlimit="10"/>
<polygon points="249.21,611.75 264.96,611.75 264.96,627.3 249.21,627.3" fill="none" stroke="#00aaaa" stroke-width="1.75" stroke-linejoin="miter" stroke-miterlimit="10"/>
<polygon points="270.63,576 286.38,576 286.38,591.55 270.63,591.55" fill="none" stroke="#00aaaa" stroke-width="1.75" stroke-linejoin="miter" stroke-miterlimit="10"/>
<polygon points="292.06,540.26 307.81,540.26 307.81,555.81 292.06,555.81" fill="none" stroke="#00aaaa" stroke-width="1.75" stroke-linejoin="miter" stroke-miterlimit="10"/>
<polygon points="94.19,900.61 94.19,918.13 76.97,909.37" fill="none" stroke="#00aaaa" stroke-width="3.3" stroke-linejoin="miter" stroke-miterlimit="10"/>
<polygon points="117.54,864.98 117.54,882.49 100.33,873.73" fill="none" stroke="#00aaaa" stroke-width="3.3" stroke-linejoin="miter" stroke-miterlimit="10"/>
<polygon points="140.9,829.34 140.9,846.86 123.69,838.1" fill="none" stroke="#00aaaa" stroke-width="3.3" stroke-linejoin="miter" stroke-miterlimit="10"/>
<polygon points="164.26,793.71 164.26,811.23 147.05,802.47" fill="none" stroke="#00aaaa" stroke-width="3.3" stroke-linejoin="miter" stroke-miterlimit="10"/>
<polygon points="187.62,758.08 187.62,775.6 170.41,766.84" fill="none" stroke="#00aaaa" stroke-width="3.3" stroke-linejoin="miter" stroke-miterlimit="10"/>
<polygon points="210.98,722.45 210.98,739.96 193.77,731.21" fill="none" stroke="#00aaaa" stroke-width="3.3" stroke-linejoin="miter" stroke-miterlimit="10"/>
<polygon points="234.34,686.81 234.34,704.33 217.13,695.57" fill="none" stroke="#00aaaa" stroke-width="3.3" stroke-linejoin="miter" stroke-miterlimit="10"/>
<polygon points="257.7,651.18 257.7,668.7 240.49,659.94" fill="none" stroke="#00aaaa" stroke-width="3.3" stroke-linejoin="miter" stroke-miterlimit="10"/>
<polygon points="281.06,615.55 281.06,633.07 263.85,624.31" fill="none" stroke="#00aaaa" stroke-width="3.3" stroke-linejoin="miter" stroke-miterlimit="10"/>
<polygon points="304.42,579.92 304.42,597.43 287.21,588.68" fill="none" stroke="#00aaaa" stroke-width="3.3" stroke-linejoin="miter" stroke-miterlimit="10"/>
<polygon points="327.78,544.28 327.78,561.8 310.56,553.04" fill="none" stroke="#00aaaa" stroke-width="3.3" stroke-linejoin="miter" stroke-miterlimit="10"/>
<polygon points="77.2,915.52 97.97,915.52 87.59,895.02" fill="none" stroke="#00aaaa" stroke-width="1.8" stroke-linejoin="miter" stroke-miterlimit="10"/>
<polygon points="104.55,881.63 125.32,881.63 114.93,861.12" fill="none" stroke="#00aaaa" stroke-width="1.8" stroke-linejoin="miter" stroke-miterlimit="10"/>
<polygon points="131.89,847.74 152.66,847.74 142.28,827.23" fill="none" stroke="#00aaaa" stroke-width="1.8" stroke-linejoin="miter" stroke-miterlimit="10"/>
<polygon points="159.24,813.85 180.01,813.85 169.62,793.34" fill="none" stroke="#00aaaa" stroke-width="1.8" stroke-linejoin="miter" stroke-miterlimit="10"/>
<polygon points="186.58,779.95 207.35,779.95 196.97,759.45" fill="none" stroke="#00aaaa" stroke-width="1.8" stroke-linejoin="miter" stroke-miterlimit="10"/>
<polygon points="213.93,746.06 234.7,746.06 224.31,725.55" fill="none" stroke="#00aaaa" stroke-width="1.8" stroke-linejoin="miter" stroke-miterlimit="10"/>
<polygon points="241.27,712.17 262.05,712.17 251.66,691.66" fill="none" stroke="#00aaaa" stroke-width="1.8" stroke-linejoin="miter" stroke-miterlimit="10"/>
<polygon points="268.62,678.28 289.39,678.28 279.01,657.77" fill="none" stroke="#00aaaa" stroke-width="1.8" stroke-linejoin="miter" stroke-miterlimit="10"/>
<polygon points="295.97,644.38 316.74,644.38 306.35,623.88" fill="none" stroke="#00aaaa" stroke-width="1.8" stroke-linejoin="miter" stroke-miterlimit="10"/>
<polygon points="323.31,610.49 344.08,610.49 333.7,589.98" fill="none" stroke="#00aaaa" stroke-width="1.8" stroke-linejoin="miter" stroke-miterlimit="10"/>
<polygon points="350.66,576.6 371.43,576.6 361.04,556.09" fill="none" stroke="#00aaaa" stroke-width="1.8" stroke-linejoin="miter" stroke-miterlimit="10"/>
<path d="M73.59 909.38H94.19M83.89 898.98V919.78" fill="none" stroke="#00aaaa" stroke-width="3.6"/>
<path d="M107.13 877.4H127.73M117.43 867V887.8" fill="none" stroke="#00aaaa" stroke-width="3.6"/>
<path d="M140.68 845.41H161.28M150.98 835.01V855.81" fill="none" stroke="#00aaaa" stroke-width="3.6"/>
<path d="M174.23 813.43H194.83M184.53 803.03V823.83" fill="none" stroke="#00aaaa" stroke-width="3.6"/>
<path d="M207.77 781.45H228.37M218.07 771.05V791.85" fill="none" stroke="#00aaaa" stroke-width="3.6"/>
<path d="M241.32 749.46H261.92M251.62 739.06V759.86" fill="none" stroke="#00aaaa" stroke-width="3.6"/>
<path d="M274.87 717.48H295.47M285.17 707.08V727.88" fill="none" stroke="#00aaaa" stroke-width="3.6"/>
<path d="M308.41 685.5H329.01M318.71 675.1V695.9" fill="none" stroke="#00aaaa" stroke-width="3.6"/>
<path d="M341.96 653.51H362.56M352.26 643.11V663.91" fill="none" stroke="#00aaaa" stroke-width="3.6"/>
<path d="M375.51 621.53H396.11M385.81 611.13V631.93" fill="none" stroke="#00aaaa" stroke-width="3.6"/>
<path d="M409.05 589.55H429.65M419.35 579.15V599.95" fill="none" stroke="#00aaaa" stroke-width="3.6"/>
<circle cx="84.39" cy="908.5" r="12.93" fill="none" stroke="#00aa00" stroke-width="1.75"/>
<circle cx="100.88" cy="869.18" r="12.93" fill="none" stroke="#00aa00" stroke-width="1.75"/>
<circle cx="117.38" cy="829.87" r="12.93" fill="none" stroke="#00aa00" stroke-width="1.75"/>
<circle cx="133.87" cy="790.56" r="12.93" fill="none" stroke="#00aa00" stroke-width="1.75"/>
<circle cx="150.36" cy="751.24" r="12.93" fill="none" stroke="#00aa00" stroke-width="1.75"/>
<circle cx="166.86" cy="711.93" r="12.93" fill="none" stroke="#00aa00" stroke-width="1.75"/>
<circle cx="183.35" cy="672.61" r="12.93" fill="none" stroke="#00aa00" stroke-width="1.75"/>
<circle cx="199.85" cy="633.3" r="12.93" fill="none" stroke="#00aa00" stroke-width="1.75"/>
<circle cx="216.34" cy="593.98" r="12.93" fill="none" stroke="#00aa00" stroke-width="1.75"/>
<circle cx="232.84" cy="554.67" r="12.93" fill="none" stroke="#00aa00" stroke-width="1.75"/>
<circle cx="249.33" cy="515.35" r="12.93" fill="none" stroke="#00aa00" stroke-width="1.75"/>
<polygon points="75.55,895.11 96.22,895.11 85.89,916.13" fill="none" stroke="#00aa00" stroke-width="1.7" stroke-linejoin="miter" stroke-miterlimit="10"/>
<polygon points="93.91,856.6 114.58,856.6 104.24,877.62" fill="none" stroke="#00aa00" stroke-width="1.7" stroke-linejoin="miter" stroke-miterlimit="10"/>
<polygon points="112.27,818.09 132.94,818.09 122.6,839.11" fill="none" stroke="#00aa00" stroke-width="1.7" stroke-linejoin="miter" stroke-miterlimit="10"/>
<polygon points="130.63,779.58 151.3,779.58 140.96,800.61" fill="none" stroke="#00aa00" stroke-width="1.7" stroke-linejoin="miter" stroke-miterlimit="10"/>
<polygon points="148.99,741.08 169.66,741.08 159.32,762.1" fill="none" stroke="#00aa00" stroke-width="1.7" stroke-linejoin="miter" stroke-miterlimit="10"/>
<polygon points="167.35,702.57 188.02,702.57 177.68,723.59" fill="none" stroke="#00aa00" stroke-width="1.7" stroke-linejoin="miter" stroke-miterlimit="10"/>
<polygon points="185.7,664.06 206.37,664.06 196.04,685.09" fill="none" stroke="#00aa00" stroke-width="1.7" stroke-linejoin="miter" stroke-miterlimit="10"/>
<polygon points="204.06,625.56 224.73,625.56 214.4,646.58" fill="none" stroke="#00aa00" stroke-width="1.7" stroke-linejoin="miter" stroke-miterlimit="10"/>
<polygon points="222.42,587.05 243.09,587.05 232.76,608.07" fill="none" stroke="#00aa00" stroke-width="1.7" stroke-linejoin="miter" stroke-miterlimit="10"/>
<polygon points="240.78,548.54 261.45,548.54 251.12,569.57" fill="none" stroke="#00aa00" stroke-width="1.7" stroke-linejoin="miter" stroke-miterlimit="10"/>
<polygon points="259.14,510.04 279.81,510.04 269.47,531.06" fill="none" stroke="#00aa00" stroke-width="1.7" stroke-linejoin="miter" stroke-miterlimit="10"/>
<polygon points="73.9,909.51 84.39,898.21 94.88,909.51 84.39,920.81" fill="none" stroke="#00aa00" stroke-width="1.7" stroke-linejoin="miter" stroke-miterlimit="10"/>
<polygon points="94.89,871.47 105.38,860.17 115.87,871.47 105.38,882.77" fill="none" stroke="#00aa00" stroke-width="1.7" stroke-linejoin="miter" stroke-miterlimit="10"/>
<polygon points="115.89,833.43 126.38,822.13 136.87,833.43 126.38,844.74" fill="none" stroke="#00aa00" stroke-width="1.7" stroke-linejoin="miter" stroke-miterlimit="10"/>
<polygon points="136.89,795.4 147.38,784.1 157.87,795.4 147.38,806.7" fill="none" stroke="#00aa00" stroke-width="1.7" stroke-linejoin="miter" stroke-miterlimit="10"/>
<polygon points="157.89,757.36 168.38,746.06 178.87,757.36 168.38,768.66" fill="none" stroke="#00aa00" stroke-width="1.7" stroke-linejoin="miter" stroke-miterlimit="10"/>
<polygon points="178.89,719.32 189.38,708.02 199.87,719.32 189.38,730.62" fill="none" stroke="#00aa00" stroke-width="1.7" stroke-linejoin="miter" stroke-miterlimit="10"/>
<polygon points="199.89,681.28 210.38,669.98 220.87,681.28 210.38,692.58" fill="none" stroke="#00aa00" stroke-width="1.7" stroke-linejoin="miter" stroke-miterlimit="10"/>
<polygon points="220.89,643.24 231.38,631.94 241.87,643.24 231.38,654.54" fill="none" stroke="#00aa00" stroke-width="1.7" stroke-linejoin="miter" stroke-miterlimit="10"/>
<polygon points="241.89,605.21 252.38,593.91 262.87,605.21 252.38,616.51" fill="none" stroke="#00aa00" stroke-width="1.7" stroke-linejoin="miter" stroke-miterlimit="10"/>
<polygon points="262.89,567.17 273.38,555.87 283.87,567.17 273.38,578.47" fill="none" stroke="#00aa00" stroke-width="1.7" stroke-linejoin="miter" stroke-miterlimit="10"/>
<polygon points="283.88,529.13 294.37,517.83 304.86,529.13 294.37,540.43" fill="none" stroke="#00aa00" stroke-width="1.7" stroke-linejoin="miter" stroke-miterlimit="10"/>
<polygon points="77.81,897.71 93.56,897.71 93.56,913.26 77.81,913.26" fill="none" stroke="#00aa00" stroke-width="1.75" stroke-linejoin="miter" stroke-miterlimit="10"/>
<polygon points="100.29,860.21 116.04,860.21 116.04,875.76 100.29,875.76" fill="none" stroke="#00aa00" stroke-width="1.75" stroke-linejoin="miter" stroke-miterlimit="10"/>
<polygon points="122.76,822.71 138.51,822.71 138.51,838.26 122.76,838.26" fill="none" stroke="#00aa00" stroke-width="1.75" stroke-linejoin="miter" stroke-miterlimit="10"/>
<polygon points="145.24,785.21 160.99,785.21 160.99,800.76 145.24,800.76" fill="none" stroke="#00aa00" stroke-width="1.75" stroke-linejoin="miter" stroke-miterlimit="10"/>
<polygon points="167.72,747.71 183.47,747.71 183.47,763.26 167.72,763.26" fill="none" stroke="#00aa00" stroke-width="1.75" stroke-linejoin="miter" stroke-miterlimit="10"/>
<polygon points="190.2,710.21 205.95,710.21 205.95,725.76 190.2,725.76" fill="none" stroke="#00aa00" stroke-width="1.75" stroke-linejoin="miter" stroke-miterlimit="10"/>
<polygon points="212.67,672.71 228.42,672.71 228.42,688.26 212.67,688.26" fill="none" stroke="#00aa00" stroke-width="1.75" stroke-linejoin="miter" stroke-miterlimit="10"/>
<polygon points="235.15,635.21 250.9,635.21 250.9,650.76 235.15,650.76" fill="none" stroke="#00aa00" stroke-width="1.75" stroke-linejoin="miter" stroke-miterlimit="10"/>
<polygon points="257.63,597.7 273.38,597.7 273.38,613.25 257.63,613.25" fill="none" stroke="#00aa00" stroke-width="1.75" stroke-linejoin="miter" stroke-miterlimit="10"/>
<polygon points="280.1,560.2 295.85,560.2 295.85,575.75 280.1,575.75" fill="none" stroke="#00aa00" stroke-width="1.75" stroke-linejoin="miter" stroke-miterlimit="10"/>
<polygon points="302.58,522.7 318.33,522.7 318.33,538.25 302.58,538.25" fill="none" stroke="#00aa00" stroke-width="1.75" stroke-linejoin="miter" stroke-miterlimit="10"/>
<polygon points="94.19,900.61 94.19,918.13 76.97,909.37" fill="none" stroke="#00aa00" stroke-width="3.3" stroke-linejoin="miter" stroke-miterlimit="10"/>
<polygon points="118.62,863.34 118.62,880.86 101.4,872.1" fill="none" stroke="#00aa00" stroke-width="3.3" stroke-linejoin="miter" stroke-miterlimit="10"/>
<polygon points="143.05,826.07 143.05,843.59 125.83,834.83" fill="none" stroke="#00aa00" stroke-width="3.3" stroke-linejoin="miter" stroke-miterlimit="10"/>
<polygon points="167.48,788.81 167.48,806.33 150.27,797.57" fill="none" stroke="#00aa00" stroke-width="3.3" stroke-linejoin="miter" stroke-miterlimit="10"/>
<polygon points="191.91,751.54 191.91,769.06 174.7,760.3" fill="none" stroke="#00aa00" stroke-width="3.3" stroke-linejoin="miter" stroke-miterlimit="10"/>
<polygon points="216.34,714.27 216.34,731.79 199.13,723.03" fill="none" stroke="#00aa00" stroke-width="3.3" stroke-linejoin="miter" stroke-miterlimit="10"/>
<polygon points="240.77,677.01 240.77,694.53 223.56,685.77" fill="none" stroke="#00aa00" stroke-width="3.3" stroke-linejoin="miter" stroke-miterlimit="10"/>
<polygon points="265.2,639.74 265.2,657.26 247.99,648.5" fill="none" stroke="#00aa00" stroke-width="3.3" stroke-linejoin="miter" stroke-miterlimit="10"/>
<polygon points="289.63,602.47 289.63,619.99 272.42,611.23" fill="none" stroke="#00aa00" stroke-width="3.3" stroke-linejoin="miter" stroke-miterlimit="10"/>
<polygon points="314.06,565.21 314.06,582.72 296.85,573.97" fill="none" stroke="#00aa00" stroke-width="3.3" stroke-linejoin="miter" stroke-miterlimit="10"/>
<polygon points="338.49,527.94 338.49,545.46 321.28,536.7" fill="none" stroke="#00aa00" stroke-width="3.3" stroke-linejoin="miter" stroke-miterlimit="10"/>
<polygon points="77.2,915.52 97.97,915.52 87.59,895.02" fill="none" stroke="#00aa00" stroke-width="1.8" stroke-linejoin="miter" stroke-miterlimit="10"/>
<polygon points="105.91,879.94 126.68,879.94 116.3,859.43" fill="none" stroke="#00aa00" stroke-width="1.8" stroke-linejoin="miter" stroke-miterlimit="10"/>
<polygon points="134.63,844.35 155.4,844.35 145.01,823.84" fill="none" stroke="#00aa00" stroke-width="1.8" stroke-linejoin="miter" stroke-miterlimit="10"/>
<polygon points="163.34,808.76 184.11,808.76 173.73,788.25" fill="none" stroke="#00aa00" stroke-width="1.8" stroke-linejoin="miter" stroke-miterlimit="10"/>
<polygon points="192.05,773.17 212.82,773.17 202.44,752.67" fill="none" stroke="#00aa00" stroke-width="1.8" stroke-linejoin="miter" stroke-miterlimit="10"/>
<polygon points="220.77,737.59 241.54,737.59 231.15,717.08" fill="none" stroke="#00aa00" stroke-width="1.8" stroke-linejoin="miter" stroke-miterlimit="10"/>
<polygon points="249.48,702 270.25,702 259.87,681.49" fill="none" stroke="#00aa00" stroke-width="1.8" stroke-linejoin="miter" stroke-miterlimit="10"/>
<polygon points="278.19,666.41 298.96,666.41 288.58,645.9" fill="none" stroke="#00aa00" stroke-width="1.8" stroke-linejoin="miter" stroke-miterlimit="10"/>
<polygon points="306.91,630.82 327.68,630.82 317.29,610.32" fill="none" stroke="#00aa00" stroke-width="1.8" stroke-linejoin="miter" stroke-miterlimit="10"/>
<polygon points="335.62,595.24 356.39,595.24 346.01,574.73" fill="none" stroke="#00aa00" stroke-width="1.8" stroke-linejoin="miter" stroke-miterlimit="10"/>
<polygon points="364.33,559.65 385.1,559.65 374.72,539.14" fill="none" stroke="#00aa00" stroke-width="1.8" stroke-linejoin="miter" stroke-miterlimit="10"/>
<path d="M73.59 909.38H94.19M83.89 898.98V919.78" fill="none" stroke="#00aa00" stroke-width="3.6"/>
<path d="M108.97 875.64H129.57M119.27 865.24V886.04" fill="none" stroke="#00aa00" stroke-width="3.6"/>
<path d="M144.36 841.9H164.96M154.66 831.5V852.3" fill="none" stroke="#00aa00" stroke-width="3.6"/>
<path d="M179.75 808.16H200.35M190.05 797.76V818.56" fill="none" stroke="#00aa00" stroke-width="3.6"/>
<path d="M215.14 774.43H235.74M225.44 764.03V784.83" fill="none" stroke="#00aa00" stroke-width="3.6"/>
<path d="M250.53 740.69H271.13M260.83 730.29V751.09" fill="none" stroke="#00aa00" stroke-width="3.6"/>
<path d="M285.91 706.95H306.51M296.21 696.55V717.35" fill="none" stroke="#00aa00" stroke-width="3.6"/>
<path d="M321.3 673.21H341.9M331.6 662.81V683.61" fill="none" stroke="#00aa00" stroke-width="3.6"/>
<path d="M356.69 639.47H377.29M366.99 629.07V649.87" fill="none" stroke="#00aa00" stroke-width="3.6"/>
<path d="M392.08 605.73H412.68M402.38 595.33V616.13" fill="none" stroke="#00aa00" stroke-width="3.6"/>
<path d="M427.47 571.99H448.07M437.77 561.59V582.39" fill="none" stroke="#00aa00" stroke-width="3.6"/>
<circle cx="84.39" cy="908.5" r="12.93" fill="none" stroke="#aa5500" stroke-width="1.75"/>
<circle cx="105.51" cy="858.16" r="12.93" fill="none" stroke="#aa5500" stroke-width="1.75"/>
<circle cx="126.63" cy="807.81" r="12.93" fill="none" stroke="#aa5500" stroke-width="1.75"/>
<circle cx="147.75" cy="757.47" r="12.93" fill="none" stroke="#aa5500" stroke-width="1.75"/>
<circle cx="168.87" cy="707.12" r="12.93" fill="none" stroke="#aa5500" stroke-width="1.75"/>
<circle cx="190" cy="656.78" r="12.93" fill="none" stroke="#aa5500" stroke-width="1.75"/>
<circle cx="211.12" cy="606.44" r="12.93" fill="none" stroke="#aa5500" stroke-width="1.75"/>
<circle cx="232.24" cy="556.09" r="12.93" fill="none" stroke="#aa5500" stroke-width="1.75"/>
<circle cx="253.36" cy="505.75" r="12.93" fill="none" stroke="#aa5500" stroke-width="1.75"/>
<circle cx="274.48" cy="455.4" r="12.93" fill="none" stroke="#aa5500" stroke-width="1.75"/>
<circle cx="295.61" cy="405.06" r="12.93" fill="none" stroke="#aa5500" stroke-width="1.75"/>
<polygon points="75.55,895.11 96.22,895.11 85.89,916.13" fill="none" stroke="#aa5500" stroke-width="1.7" stroke-linejoin="miter" stroke-miterlimit="10"/>
<polygon points="99.19,845.52 119.86,845.52 109.53,866.54" fill="none" stroke="#aa5500" stroke-width="1.7" stroke-linejoin="miter" stroke-miterlimit="10"/>
<polygon points="122.83,795.94 143.5,795.94 133.17,816.96" fill="none" stroke="#aa5500" stroke-width="1.7" stroke-linejoin="miter" stroke-miterlimit="10"/>
<polygon points="146.47,746.35 167.14,746.35 156.81,767.37" fill="none" stroke="#aa5500" stroke-width="1.7" stroke-linejoin="miter" stroke-miterlimit="10"/>
<polygon points="170.11,696.77 190.78,696.77 180.45,717.79" fill="none" stroke="#aa5500" stroke-width="1.7" stroke-linejoin="miter" stroke-miterlimit="10"/>
<polygon points="193.75,647.18 214.42,647.18 204.09,668.2" fill="none" stroke="#aa5500" stroke-width="1.7" stroke-linejoin="miter" stroke-miterlimit="10"/>
<polygon points="217.39,597.6 238.06,597.6 227.73,618.62" fill="none" stroke="#aa5500" stroke-width="1.7" stroke-linejoin="miter" stroke-miterlimit="10"/>
<polygon points="241.03,548.01 261.7,548.01 251.37,569.04" fill="none" stroke="#aa5500" stroke-width="1.7" stroke-linejoin="miter" stroke-miterlimit="10"/>
<polygon points="264.67,498.43 285.34,498.43 275.01,519.45" fill="none" stroke="#aa5500" stroke-width="1.7" stroke-linejoin="miter" stroke-miterlimit="10"/>
<polygon points="288.31,448.84 308.98,448.84 298.65,469.87" fill="none" stroke="#aa5500" stroke-width="1.7" stroke-linejoin="miter" stroke-miterlimit="10"/>
<polygon points="311.96,399.26 332.63,399.26 322.29,420.28" fill="none" stroke="#aa5500" stroke-width="1.7" stroke-linejoin="miter" stroke-miterlimit="10"/>
<polygon points="73.9,909.51 84.39,898.21 94.88,909.51 84.39,920.81" fill="none" stroke="#aa5500" stroke-width="1.7" stroke-linejoin="miter" stroke-miterlimit="10"/>
<polygon points="101.11,860.21 111.6,848.91 122.09,860.21 111.6,871.51" fill="none" stroke="#aa5500" stroke-width="1.7" stroke-linejoin="miter" stroke-miterlimit="10"/>
<polygon points="128.32,810.92 138.82,799.62 149.31,810.92 138.82,822.22" fill="none" stroke="#aa5500" stroke-width="1.7" stroke-linejoin="miter" stroke-miterlimit="10"/>
<polygon points="155.54,761.62 166.03,750.32 176.52,761.62 166.03,772.92" fill="none" stroke="#aa5500" stroke-width="1.7" stroke-linejoin="miter" stroke-miterlimit="10"/>
<polygon points="182.75,712.32 193.24,701.02 203.73,712.32 193.24,723.62" fill="none" stroke="#aa5500" stroke-width="1.7" stroke-linejoin="miter" stroke-miterlimit="10"/>
<polygon points="209.97,663.02 220.46,651.72 230.95,663.02 220.46,674.32" fill="none" stroke="#aa5500" stroke-width="1.7" stroke-linejoin="miter" stroke-miterlimit="10"/>
<polygon points="237.18,613.73 247.67,602.42 258.16,613.73 247.67,625.03" fill="none" stroke="#aa5500" stroke-width="1.7" stroke-linejoin="miter" stroke-miterlimit="10"/>
<polygon points="264.4,564.43 274.89,553.13 285.38,564.43 274.89,575.73" fill="none" stroke="#aa5500" stroke-width="1.7" stroke-linejoin="miter" stroke-miterlimit="10"/>
<polygon points="291.61,515.13 302.1,503.83 312.59,515.13 302.1,526.43" fill="none" stroke="#aa5500" stroke-width="1.7" stroke-linejoin="miter" stroke-miterlimit="10"/>
<polygon points="318.83,465.83 329.32,454.53 339.81,465.83 329.32,477.13" fill="none" stroke="#aa5500" stroke-width="1.7" stroke-linejoin="miter" stroke-miterlimit="10"/>
<polygon points="346.04,416.53 356.53,405.23 367.02,416.53 356.53,427.84" fill="none" stroke="#aa5500" stroke-width="1.7" stroke-linejoin="miter" stroke-miterlimit="10"/>
<polygon points="77.81,897.71 93.56,897.71 93.56,913.26 77.81,913.26" fill="none" stroke="#aa5500" stroke-width="1.75" stroke-linejoin="miter" stroke-miterlimit="10"/>
<polygon points="107.03,848.97 122.78,848.97 122.78,864.52 107.03,864.52" fill="none" stroke="#aa5500" stroke-width="1.75" stroke-linejoin="miter" stroke-miterlimit="10"/>
<polygon points="136.25,800.22 152,800.22 152,815.77 136.25,815.77" fill="none" stroke="#aa5500" stroke-width="1.75" stroke-linejoin="miter" stroke-miterlimit="10"/>
<polygon points="165.47,751.47 181.22,751.47 181.22,767.02 165.47,767.02" fill="none" stroke="#aa5500" stroke-width="1.75" stroke-linejoin="miter" stroke-miterlimit="10"/>
<polygon points="194.68,702.72 210.43,702.72 210.43,718.27 194.68,718.27" fill="none" stroke="#aa5500" stroke-width="1.75" stroke-linejoin="miter" stroke-miterlimit="10"/>
<polygon points="223.9,653.97 239.65,653.97 239.65,669.52 223.9,669.52" fill="none" stroke="#aa5500" stroke-width="1.75" stroke-linejoin="miter" stroke-miterlimit="10"/>
<polygon points="253.12,605.22 268.87,605.22 268.87,620.77 253.12,620.77" fill="none" stroke="#aa5500" stroke-width="1.75" stroke-linejoin="miter" stroke-miterlimit="10"/>
<polygon points="282.34,556.47 298.09,556.47 298.09,572.02 282.34,572.02" fill="none" stroke="#aa5500" stroke-width="1.75" stroke-linejoin="miter" stroke-miterlimit="10"/>
<polygon points="311.56,507.73 327.31,507.73 327.31,523.28 311.56,523.28" fill="none" stroke="#aa5500" stroke-width="1.75" stroke-linejoin="miter" stroke-miterlimit="10"/>
<polygon points="340.77,458.98 356.52,458.98 356.52,474.53 340.77,474.53" fill="none" stroke="#aa5500" stroke-width="1.75" stroke-linejoin="miter" stroke-miterlimit="10"/>
<polygon points="369.99,410.23 385.74,410.23 385.74,425.78 369.99,425.78" fill="none" stroke="#aa5500" stroke-width="1.75" stroke-linejoin="miter" stroke-miterlimit="10"/>
<polygon points="94.19,900.61 94.19,918.13 76.97,909.37" fill="none" stroke="#aa5500" stroke-width="3.3" stroke-linejoin="miter" stroke-miterlimit="10"/>
<polygon points="125.97,852.12 125.97,869.64 108.76,860.88" fill="none" stroke="#aa5500" stroke-width="3.3" stroke-linejoin="miter" stroke-miterlimit="10"/>
<polygon points="157.76,803.63 157.76,821.15 140.55,812.39" fill="none" stroke="#aa5500" stroke-width="3.3" stroke-linejoin="miter" stroke-miterlimit="10"/>
<polygon points="189.55,755.14 189.55,772.66 172.34,763.9" fill="none" stroke="#aa5500" stroke-width="3.3" stroke-linejoin="miter" stroke-miterlimit="10"/>
<polygon points="221.34,706.65 221.34,724.17 204.13,715.41" fill="none" stroke="#aa5500" stroke-width="3.3" stroke-linejoin="miter" stroke-miterlimit="10"/>
<polygon points="253.13,658.16 253.13,675.68 235.91,666.92" fill="none" stroke="#aa5500" stroke-width="3.3" stroke-linejoin="miter" stroke-miterlimit="10"/>
<polygon points="284.91,609.67 284.91,627.19 267.7,618.43" fill="none" stroke="#aa5500" stroke-width="3.3" stroke-linejoin="miter" stroke-miterlimit="10"/>
<polygon points="316.7,561.18 316.7,578.7 299.49,569.94" fill="none" stroke="#aa5500" stroke-width="3.3" stroke-linejoin="miter" stroke-miterlimit="10"/>
<polygon points="348.49,512.69 348.49,530.21 331.28,521.45" fill="none" stroke="#aa5500" stroke-width="3.3" stroke-linejoin="miter" stroke-miterlimit="10"/>
<polygon points="380.28,464.2 380.28,481.72 363.07,472.96" fill="none" stroke="#aa5500" stroke-width="3.3" stroke-linejoin="miter" stroke-miterlimit="10"/>
<polygon points="412.07,415.71 412.07,433.23 394.85,424.47" fill="none" stroke="#aa5500" stroke-width="3.3" stroke-linejoin="miter" stroke-miterlimit="10"/>
<polygon points="77.2,915.52 97.97,915.52 87.59,895.02" fill="none" stroke="#aa5500" stroke-width="1.8" stroke-linejoin="miter" stroke-miterlimit="10"/>
<polygon points="115.14,868.49 135.92,868.49 125.53,847.99" fill="none" stroke="#aa5500" stroke-width="1.8" stroke-linejoin="miter" stroke-miterlimit="10"/>
<polygon points="153.09,821.47 173.86,821.47 163.47,800.96" fill="none" stroke="#aa5500" stroke-width="1.8" stroke-linejoin="miter" stroke-miterlimit="10"/>
<polygon points="191.03,774.44 211.8,774.44 201.42,753.93" fill="none" stroke="#aa5500" stroke-width="1.8" stroke-linejoin="miter" stroke-miterlimit="10"/>
<polygon points="228.98,727.41 249.75,727.41 239.36,706.9" fill="none" stroke="#aa5500" stroke-width="1.8" stroke-linejoin="miter" stroke-miterlimit="10"/>
<polygon points="266.92,680.38 287.69,680.38 277.31,659.87" fill="none" stroke="#aa5500" stroke-width="1.8" stroke-linejoin="miter" stroke-miterlimit="10"/>
<polygon points="304.87,633.35 325.64,633.35 315.25,612.84" fill="none" stroke="#aa5500" stroke-width="1.8" stroke-linejoin="miter" stroke-miterlimit="10"/>
<polygon points="342.81,586.32 363.58,586.32 353.2,565.82" fill="none" stroke="#aa5500" stroke-width="1.8" stroke-linejoin="miter" stroke-miterlimit="10"/>
<polygon points="380.76,539.29 401.53,539.29 391.14,518.79" fill="none" stroke="#aa5500" stroke-width="1.8" stroke-linejoin="miter" stroke-miterlimit="10"/>
<polygon points="418.7,492.27 439.47,492.27 429.09,471.76" fill="none" stroke="#aa5500" stroke-width="1.8" stroke-linejoin="miter" stroke-miterlimit="10"/>
<polygon points="456.65,445.24 477.42,445.24 467.03,424.73" fill="none" stroke="#aa5500" stroke-width="1.8" stroke-linejoin="miter" stroke-miterlimit="10"/>
<path d="M73.59 909.38H94.19M83.89 898.98V919.78" fill="none" stroke="#aa5500" stroke-width="3.6"/>
<path d="M121.47 863.73H142.07M131.77 853.33V874.13" fill="none" stroke="#aa5500" stroke-width="3.6"/>
<path d="M169.35 818.08H189.95M179.65 807.68V828.48" fill="none" stroke="#aa5500" stroke-width="3.6"/>
<path d="M217.24 772.42H237.84M227.54 762.02V782.82" fill="none" stroke="#aa5500" stroke-width="3.6"/>
<path d="M265.12 726.77H285.72M275.42 716.37V737.17" fill="none" stroke="#aa5500" stroke-width="3.6"/>
<path d="M313 681.12H333.6M323.3 670.72V691.52" fill="none" stroke="#aa5500" stroke-width="3.6"/>
<path d="M360.89 635.47H381.49M371.19 625.07V645.87" fill="none" stroke="#aa5500" stroke-width="3.6"/>
<path d="M408.77 589.82H429.37M419.07 579.42V600.22" fill="none" stroke="#aa5500" stroke-width="3.6"/>
<path d="M456.66 544.16H477.26M466.96 533.76V554.56" fill="none" stroke="#aa5500" stroke-width="3.6"/>
<path d="M504.54 498.51H525.14M514.84 488.11V508.91" fill="none" stroke="#aa5500" stroke-width="3.6"/>
<path d="M552.42 452.86H573.02M562.72 442.46V463.26" fill="none" stroke="#aa5500" stroke-width="3.6"/>
<circle cx="84.39" cy="908.5" r="12.93" fill="none" stroke="#aa00aa" stroke-width="1.75"/>
<circle cx="112.32" cy="841.92" r="12.93" fill="none" stroke="#aa00aa" stroke-width="1.75"/>
<circle cx="140.25" cy="775.34" r="12.93" fill="none" stroke="#aa00aa" stroke-width="1.75"/>
<circle cx="168.19" cy="708.76" r="12.93" fill="none" stroke="#aa00aa" stroke-width="1.75"/>
<circle cx="196.12" cy="642.18" r="12.93" fill="none" stroke="#aa00aa" stroke-width="1.75"/>
<circle cx="224.05" cy="575.6" r="12.93" fill="none" stroke="#aa00aa" stroke-width="1.75"/>
<circle cx="251.99" cy="509.02" r="12.93" fill="none" stroke="#aa00aa" stroke-width="1.75"/>
<circle cx="279.92" cy="442.44" r="12.93" fill="none" stroke="#aa00aa" stroke-width="1.75"/>
<circle cx="307.86" cy="375.86" r="12.93" fill="none" stroke="#aa00aa" stroke-width="1.75"/>
<circle cx="335.79" cy="309.28" r="12.93" fill="none" stroke="#aa00aa" stroke-width="1.75"/>
<circle cx="363.72" cy="242.7" r="12.93" fill="none" stroke="#aa00aa" stroke-width="1.75"/>
<polygon points="75.55,895.11 96.22,895.11 85.89,916.13" fill="none" stroke="#aa00aa" stroke-width="1.7" stroke-linejoin="miter" stroke-miterlimit="10"/>
<polygon points="107.01,829.12 127.68,829.12 117.35,850.14" fill="none" stroke="#aa00aa" stroke-width="1.7" stroke-linejoin="miter" stroke-miterlimit="10"/>
<polygon points="138.47,763.13 159.14,763.13 148.81,784.15" fill="none" stroke="#aa00aa" stroke-width="1.7" stroke-linejoin="miter" stroke-miterlimit="10"/>
<polygon points="169.94,697.14 190.61,697.14 180.27,718.16" fill="none" stroke="#aa00aa" stroke-width="1.7" stroke-linejoin="miter" stroke-miterlimit="10"/>
<polygon points="201.4,631.15 222.07,631.15 211.73,652.17" fill="none" stroke="#aa00aa" stroke-width="1.7" stroke-linejoin="miter" stroke-miterlimit="10"/>
<polygon points="232.86,565.16 253.53,565.16 243.19,586.18" fill="none" stroke="#aa00aa" stroke-width="1.7" stroke-linejoin="miter" stroke-miterlimit="10"/>
<polygon points="264.32,499.17 284.99,499.17 274.66,520.19" fill="none" stroke="#aa00aa" stroke-width="1.7" stroke-linejoin="miter" stroke-miterlimit="10"/>
<polygon points="295.78,433.18 316.45,433.18 306.12,454.2" fill="none" stroke="#aa00aa" stroke-width="1.7" stroke-linejoin="miter" stroke-miterlimit="10"/>
<polygon points="327.25,367.19 347.92,367.19 337.58,388.21" fill="none" stroke="#aa00aa" stroke-width="1.7" stroke-linejoin="miter" stroke-miterlimit="10"/>
<polygon points="358.71,301.2 379.38,301.2 369.04,322.22" fill="none" stroke="#aa00aa" stroke-width="1.7" stroke-linejoin="miter" stroke-miterlimit="10"/>
<polygon points="390.17,235.21 410.84,235.21 400.5,256.23" fill="none" stroke="#aa00aa" stroke-width="1.7" stroke-linejoin="miter" stroke-miterlimit="10"/>
<polygon points="73.9,909.51 84.39,898.21 94.88,909.51 84.39,920.81" fill="none" stroke="#aa00aa" stroke-width="1.7" stroke-linejoin="miter" stroke-miterlimit="10"/>
<polygon points="110.27,843.63 120.76,832.33 131.25,843.63 120.76,854.93" fill="none" stroke="#aa00aa" stroke-width="1.7" stroke-linejoin="miter" stroke-miterlimit="10"/>
<polygon points="146.64,777.74 157.13,766.44 167.62,777.74 157.13,789.04" fill="none" stroke="#aa00aa" stroke-width="1.7" stroke-linejoin="miter" stroke-miterlimit="10"/>
<polygon points="183.01,711.86 193.5,700.56 203.99,711.86 193.5,723.16" fill="none" stroke="#aa00aa" stroke-width="1.7" stroke-linejoin="miter" stroke-miterlimit="10"/>
<polygon points="219.38,645.97 229.87,634.67 240.36,645.97 229.87,657.27" fill="none" stroke="#aa00aa" stroke-width="1.7" stroke-linejoin="miter" stroke-miterlimit="10"/>
<polygon points="255.75,580.09 266.24,568.79 276.73,580.09 266.24,591.39" fill="none" stroke="#aa00aa" stroke-width="1.7" stroke-linejoin="miter" stroke-miterlimit="10"/>
<polygon points="292.12,514.21 302.61,502.9 313.1,514.21 302.61,525.51" fill="none" stroke="#aa00aa" stroke-width="1.7" stroke-linejoin="miter" stroke-miterlimit="10"/>
<polygon points="328.49,448.32 338.98,437.02 349.47,448.32 338.98,459.62" fill="none" stroke="#aa00aa" stroke-width="1.7" stroke-linejoin="miter" stroke-miterlimit="10"/>
<polygon points="364.87,382.44 375.36,371.14 385.85,382.44 375.36,393.74" fill="none" stroke="#aa00aa" stroke-width="1.7" stroke-linejoin="miter" stroke-miterlimit="10"/>
<polygon points="401.24,316.55 411.73,305.25 422.22,316.55 411.73,327.85" fill="none" stroke="#aa00aa" stroke-width="1.7" stroke-linejoin="miter" stroke-miterlimit="10"/>
<polygon points="437.61,250.67 448.1,239.37 458.59,250.67 448.1,261.97" fill="none" stroke="#aa00aa" stroke-width="1.7" stroke-linejoin="miter" stroke-miterlimit="10"/>
<polygon points="77.81,897.71 93.56,897.71 93.56,913.26 77.81,913.26" fill="none" stroke="#aa00aa" stroke-width="1.75" stroke-linejoin="miter" stroke-miterlimit="10"/>
<polygon points="116.94,832.43 132.69,832.43 132.69,847.98 116.94,847.98" fill="none" stroke="#aa00aa" stroke-width="1.75" stroke-linejoin="miter" stroke-miterlimit="10"/>
<polygon points="156.07,767.14 171.82,767.14 171.82,782.69 156.07,782.69" fill="none" stroke="#aa00aa" stroke-width="1.75" stroke-linejoin="miter" stroke-miterlimit="10"/>
<polygon points="195.2,701.85 210.95,701.85 210.95,717.4 195.2,717.4" fill="none" stroke="#aa00aa" stroke-width="1.75" stroke-linejoin="miter" stroke-miterlimit="10"/>
<polygon points="234.33,636.57 250.08,636.57 250.08,652.12 234.33,652.12" fill="none" stroke="#aa00aa" stroke-width="1.75" stroke-linejoin="miter" stroke-miterlimit="10"/>
<polygon points="273.46,571.28 289.21,571.28 289.21,586.83 273.46,586.83" fill="none" stroke="#aa00aa" stroke-width="1.75" stroke-linejoin="miter" stroke-miterlimit="10"/>
<polygon points="312.59,505.99 328.34,505.99 328.34,521.54 312.59,521.54" fill="none" stroke="#aa00aa" stroke-width="1.75" stroke-linejoin="miter" stroke-miterlimit="10"/>
<polygon points="351.73,440.71 367.48,440.71 367.48,456.26 351.73,456.26" fill="none" stroke="#aa00aa" stroke-width="1.75" stroke-linejoin="miter" stroke-miterlimit="10"/>
<polygon points="390.86,375.42 406.61,375.42 406.61,390.97 390.86,390.97" fill="none" stroke="#aa00aa" stroke-width="1.75" stroke-linejoin="miter" stroke-miterlimit="10"/>
<polygon points="429.99,310.13 445.74,310.13 445.74,325.68 429.99,325.68" fill="none" stroke="#aa00aa" stroke-width="1.75" stroke-linejoin="miter" stroke-miterlimit="10"/>
<polygon points="469.12,244.85 484.87,244.85 484.87,260.4 469.12,260.4" fill="none" stroke="#aa00aa" stroke-width="1.75" stroke-linejoin="miter" stroke-miterlimit="10"/>
<polygon points="94.19,900.61 94.19,918.13 76.97,909.37" fill="none" stroke="#aa00aa" stroke-width="3.3" stroke-linejoin="miter" stroke-miterlimit="10"/>
<polygon points="136.87,835.5 136.87,853.01 119.66,844.25" fill="none" stroke="#aa00aa" stroke-width="3.3" stroke-linejoin="miter" stroke-miterlimit="10"/>
<polygon points="179.56,770.38 179.56,787.9 162.34,779.14" fill="none" stroke="#aa00aa" stroke-width="3.3" stroke-linejoin="miter" stroke-miterlimit="10"/>
<polygon points="222.24,705.27 222.24,722.79 205.03,714.03" fill="none" stroke="#aa00aa" stroke-width="3.3" stroke-linejoin="miter" stroke-miterlimit="10"/>
<polygon points="264.93,640.16 264.93,657.67 247.71,648.92" fill="none" stroke="#aa00aa" stroke-width="3.3" stroke-linejoin="miter" stroke-miterlimit="10"/>
<polygon points="307.61,575.04 307.61,592.56 290.4,583.8" fill="none" stroke="#aa00aa" stroke-width="3.3" stroke-linejoin="miter" stroke-miterlimit="10"/>
<polygon points="350.3,509.93 350.3,527.45 333.09,518.69" fill="none" stroke="#aa00aa" stroke-width="3.3" stroke-linejoin="miter" stroke-miterlimit="10"/>
<polygon points="392.98,444.82 392.98,462.34 375.77,453.58" fill="none" stroke="#aa00aa" stroke-width="3.3" stroke-linejoin="miter" stroke-miterlimit="10"/>
<polygon points="435.67,379.7 435.67,397.22 418.46,388.46" fill="none" stroke="#aa00aa" stroke-width="3.3" stroke-linejoin="miter" stroke-miterlimit="10"/>
<polygon points="478.35,314.59 478.35,332.11 461.14,323.35" fill="none" stroke="#aa00aa" stroke-width="3.3" stroke-linejoin="miter" stroke-miterlimit="10"/>
<polygon points="521.04,249.48 521.04,267 503.83,258.24" fill="none" stroke="#aa00aa" stroke-width="3.3" stroke-linejoin="miter" stroke-miterlimit="10"/>
<polygon points="77.2,915.52 97.97,915.52 87.59,895.02" fill="none" stroke="#aa00aa" stroke-width="1.8" stroke-linejoin="miter" stroke-miterlimit="10"/>
<polygon points="128.69,851.7 149.46,851.7 139.08,831.19" fill="none" stroke="#aa00aa" stroke-width="1.8" stroke-linejoin="miter" stroke-miterlimit="10"/>
<polygon points="180.19,787.88 200.96,787.88 190.57,767.37" fill="none" stroke="#aa00aa" stroke-width="1.8" stroke-linejoin="miter" stroke-miterlimit="10"/>
<polygon points="231.68,724.06 252.45,724.06 242.07,703.55" fill="none" stroke="#aa00aa" stroke-width="1.8" stroke-linejoin="miter" stroke-miterlimit="10"/>
<polygon points="283.17,660.24 303.94,660.24 293.56,639.73" fill="none" stroke="#aa00aa" stroke-width="1.8" stroke-linejoin="miter" stroke-miterlimit="10"/>
<polygon points="334.67,596.42 355.44,596.42 345.05,575.91" fill="none" stroke="#aa00aa" stroke-width="1.8" stroke-linejoin="miter" stroke-miterlimit="10"/>
<polygon points="386.16,532.6 406.93,532.6 396.55,512.09" fill="none" stroke="#aa00aa" stroke-width="1.8" stroke-linejoin="miter" stroke-miterlimit="10"/>
<polygon points="437.65,468.78 458.42,468.78 448.04,448.27" fill="none" stroke="#aa00aa" stroke-width="1.8" stroke-linejoin="miter" stroke-miterlimit="10"/>
<polygon points="489.15,404.96 509.92,404.96 499.53,384.45" fill="none" stroke="#aa00aa" stroke-width="1.8" stroke-linejoin="miter" stroke-miterlimit="10"/>
<polygon points="540.64,341.13 561.41,341.13 551.02,320.63" fill="none" stroke="#aa00aa" stroke-width="1.8" stroke-linejoin="miter" stroke-miterlimit="10"/>
<polygon points="592.13,277.31 612.9,277.31 602.52,256.81" fill="none" stroke="#aa00aa" stroke-width="1.8" stroke-linejoin="miter" stroke-miterlimit="10"/>
<path d="M73.59 909.38H94.19M83.89 898.98V919.78" fill="none" stroke="#aa00aa" stroke-width="3.6"/>
<path d="M139.39 846.64H159.99M149.69 836.24V857.04" fill="none" stroke="#aa00aa" stroke-width="3.6"/>
<path d="M205.19 783.91H225.79M215.49 773.51V794.31" fill="none" stroke="#aa00aa" stroke-width="3.6"/>
<path d="M270.99 721.18H291.59M281.29 710.78V731.58" fill="none" stroke="#aa00aa" stroke-width="3.6"/>
<path d="M336.79 658.44H357.39M347.09 648.04V668.84" fill="none" stroke="#aa00aa" stroke-width="3.6"/>
<path d="M402.6 595.71H423.2M412.9 585.31V606.11" fill="none" stroke="#aa00aa" stroke-width="3.6"/>
<path d="M468.4 532.97H489M478.7 522.57V543.37" fill="none" stroke="#aa00aa" stroke-width="3.6"/>
<path d="M534.2 470.24H554.8M544.5 459.84V480.64" fill="none" stroke="#aa00aa" stroke-width="3.6"/>
<path d="M600 407.5H620.6M610.3 397.1V417.9" fill="none" stroke="#aa00aa" stroke-width="3.6"/>
<path d="M665.8 344.77H686.4M676.1 334.37V355.17" fill="none" stroke="#aa00aa" stroke-width="3.6"/>
<path d="M731.61 282.03H752.21M741.91 271.63V292.43" fill="none" stroke="#aa00aa" stroke-width="3.6"/>
<circle cx="84.39" cy="908.5" r="12.93" fill="none" stroke="#aaaa00" stroke-width="1.75"/>
<circle cx="117.49" cy="829.59" r="12.93" fill="none" stroke="#aaaa00" stroke-width="1.75"/>
<circle cx="150.6" cy="750.69" r="12.93" fill="none" stroke="#aaaa00" stroke-width="1.75"/>
<circle cx="183.7" cy="671.79" r="12.93" fill="none" stroke="#aaaa00" stroke-width="1.75"/>
<circle cx="216.81" cy="592.88" r="12.93" fill="none" stroke="#aaaa00" stroke-width="1.75"/>
<circle cx="249.91" cy="513.98" r="12.93" fill="none" stroke="#aaaa00" stroke-width="1.75"/>
<circle cx="283.01" cy="435.07" r="12.93" fill="none" stroke="#aaaa00" stroke-width="1.75"/>
<circle cx="316.12" cy="356.17" r="12.93" fill="none" stroke="#aaaa00" stroke-width="1.75"/>
<circle cx="349.22" cy="277.26" r="12.93" fill="none" stroke="#aaaa00" stroke-width="1.75"/>
<circle cx="382.33" cy="198.36" r="12.93" fill="none" stroke="#aaaa00" stroke-width="1.75"/>
<circle cx="415.43" cy="119.46" r="12.93" fill="none" stroke="#aaaa00" stroke-width="1.75"/>
<polygon points="75.55,895.11 96.22,895.11 85.89,916.13" fill="none" stroke="#aaaa00" stroke-width="1.7" stroke-linejoin="miter" stroke-miterlimit="10"/>
<polygon points="112.86,816.85 133.53,816.85 123.19,837.87" fill="none" stroke="#aaaa00" stroke-width="1.7" stroke-linejoin="miter" stroke-miterlimit="10"/>
<polygon points="150.17,738.6 170.84,738.6 160.5,759.62" fill="none" stroke="#aaaa00" stroke-width="1.7" stroke-linejoin="miter" stroke-miterlimit="10"/>
<polygon points="187.48,660.34 208.15,660.34 197.81,681.37" fill="none" stroke="#aaaa00" stroke-width="1.7" stroke-linejoin="miter" stroke-miterlimit="10"/>
<polygon points="224.79,582.09 245.46,582.09 235.12,603.11" fill="none" stroke="#aaaa00" stroke-width="1.7" stroke-linejoin="miter" stroke-miterlimit="10"/>
<polygon points="262.1,503.83 282.77,503.83 272.43,524.86" fill="none" stroke="#aaaa00" stroke-width="1.7" stroke-linejoin="miter" stroke-miterlimit="10"/>
<polygon points="299.41,425.58 320.08,425.58 309.74,446.6" fill="none" stroke="#aaaa00" stroke-width="1.7" stroke-linejoin="miter" stroke-miterlimit="10"/>
<polygon points="336.71,347.33 357.38,347.33 347.05,368.35" fill="none" stroke="#aaaa00" stroke-width="1.7" stroke-linejoin="miter" stroke-miterlimit="10"/>
<polygon points="374.02,269.07 394.69,269.07 384.36,290.1" fill="none" stroke="#aaaa00" stroke-width="1.7" stroke-linejoin="miter" stroke-miterlimit="10"/>
<polygon points="411.33,190.82 432,190.82 421.67,211.84" fill="none" stroke="#aaaa00" stroke-width="1.7" stroke-linejoin="miter" stroke-miterlimit="10"/>
<polygon points="448.64,112.56 469.31,112.56 458.98,133.59" fill="none" stroke="#aaaa00" stroke-width="1.7" stroke-linejoin="miter" stroke-miterlimit="10"/>
<polygon points="73.9,909.51 84.39,898.21 94.88,909.51 84.39,920.81" fill="none" stroke="#aaaa00" stroke-width="1.7" stroke-linejoin="miter" stroke-miterlimit="10"/>
<polygon points="117.06,831.33 127.55,820.03 138.04,831.33 127.55,842.63" fill="none" stroke="#aaaa00" stroke-width="1.7" stroke-linejoin="miter" stroke-miterlimit="10"/>
<polygon points="160.22,753.14 170.71,741.84 181.2,753.14 170.71,764.44" fill="none" stroke="#aaaa00" stroke-width="1.7" stroke-linejoin="miter" stroke-miterlimit="10"/>
<polygon points="203.38,674.96 213.87,663.66 224.36,674.96 213.87,686.26" fill="none" stroke="#aaaa00" stroke-width="1.7" stroke-linejoin="miter" stroke-miterlimit="10"/>
<polygon points="246.54,596.77 257.03,585.47 267.52,596.77 257.03,608.07" fill="none" stroke="#aaaa00" stroke-width="1.7" stroke-linejoin="miter" stroke-miterlimit="10"/>
<polygon points="289.7,518.59 300.19,507.29 310.69,518.59 300.19,529.89" fill="none" stroke="#aaaa00" stroke-width="1.7" stroke-linejoin="miter" stroke-miterlimit="10"/>
<polygon points="332.87,440.4 343.36,429.1 353.85,440.4 343.36,451.7" fill="none" stroke="#aaaa00" stroke-width="1.7" stroke-linejoin="miter" stroke-miterlimit="10"/>
<polygon points="376.03,362.22 386.52,350.92 397.01,362.22 386.52,373.52" fill="none" stroke="#aaaa00" stroke-width="1.7" stroke-linejoin="miter" stroke-miterlimit="10"/>
<polygon points="419.19,284.03 429.68,272.73 440.17,284.03 429.68,295.33" fill="none" stroke="#aaaa00" stroke-width="1.7" stroke-linejoin="miter" stroke-miterlimit="10"/>
<polygon points="462.35,205.85 472.84,194.55 483.33,205.85 472.84,217.15" fill="none" stroke="#aaaa00" stroke-width="1.7" stroke-linejoin="miter" stroke-miterlimit="10"/>
<polygon points="505.51,127.66 516,116.36 526.49,127.66 516,138.96" fill="none" stroke="#aaaa00" stroke-width="1.7" stroke-linejoin="miter" stroke-miterlimit="10"/>
<polygon points="77.81,897.71 93.56,897.71 93.56,913.26 77.81,913.26" fill="none" stroke="#aaaa00" stroke-width="1.75" stroke-linejoin="miter" stroke-miterlimit="10"/>
<polygon points="124.34,820.08 140.09,820.08 140.09,835.63 124.34,835.63" fill="none" stroke="#aaaa00" stroke-width="1.75" stroke-linejoin="miter" stroke-miterlimit="10"/>
<polygon points="170.88,742.44 186.63,742.44 186.63,757.99 170.88,757.99" fill="none" stroke="#aaaa00" stroke-width="1.75" stroke-linejoin="miter" stroke-miterlimit="10"/>
<polygon points="217.41,664.81 233.16,664.81 233.16,680.36 217.41,680.36" fill="none" stroke="#aaaa00" stroke-width="1.75" stroke-linejoin="miter" stroke-miterlimit="10"/>
<polygon points="263.94,587.17 279.69,587.17 279.69,602.72 263.94,602.72" fill="none" stroke="#aaaa00" stroke-width="1.75" stroke-linejoin="miter" stroke-miterlimit="10"/>
<polygon points="310.47,509.53 326.22,509.53 326.22,525.08 310.47,525.08" fill="none" stroke="#aaaa00" stroke-width="1.75" stroke-linejoin="miter" stroke-miterlimit="10"/>
<polygon points="357,431.9 372.75,431.9 372.75,447.45 357,447.45" fill="none" stroke="#aaaa00" stroke-width="1.75" stroke-linejoin="miter" stroke-miterlimit="10"/>
<polygon points="403.54,354.26 419.29,354.26 419.29,369.81 403.54,369.81" fill="none" stroke="#aaaa00" stroke-width="1.75" stroke-linejoin="miter" stroke-miterlimit="10"/>
<polygon points="450.07,276.63 465.82,276.63 465.82,292.18 450.07,292.18" fill="none" stroke="#aaaa00" stroke-width="1.75" stroke-linejoin="miter" stroke-miterlimit="10"/>
<polygon points="496.6,198.99 512.35,198.99 512.35,214.54 496.6,214.54" fill="none" stroke="#aaaa00" stroke-width="1.75" stroke-linejoin="miter" stroke-miterlimit="10"/>
<polygon points="543.13,121.36 558.88,121.36 558.88,136.91 543.13,136.91" fill="none" stroke="#aaaa00" stroke-width="1.75" stroke-linejoin="miter" stroke-miterlimit="10"/>
<polygon points="94.19,900.61 94.19,918.13 76.97,909.37" fill="none" stroke="#aaaa00" stroke-width="3.3" stroke-linejoin="miter" stroke-miterlimit="10"/>
<polygon points="145.05,823.03 145.05,840.54 127.83,831.78" fill="none" stroke="#aaaa00" stroke-width="3.3" stroke-linejoin="miter" stroke-miterlimit="10"/>
<polygon points="195.91,745.44 195.91,762.96 178.69,754.2" fill="none" stroke="#aaaa00" stroke-width="3.3" stroke-linejoin="miter" stroke-miterlimit="10"/>
<polygon points="246.77,667.86 246.77,685.38 229.55,676.62" fill="none" stroke="#aaaa00" stroke-width="3.3" stroke-linejoin="miter" stroke-miterlimit="10"/>
<polygon points="297.63,590.28 297.63,607.79 280.41,599.03" fill="none" stroke="#aaaa00" stroke-width="3.3" stroke-linejoin="miter" stroke-miterlimit="10"/>
<polygon points="348.49,512.69 348.49,530.21 331.27,521.45" fill="none" stroke="#aaaa00" stroke-width="3.3" stroke-linejoin="miter" stroke-miterlimit="10"/>
<polygon points="399.35,435.11 399.35,452.63 382.13,443.87" fill="none" stroke="#aaaa00" stroke-width="3.3" stroke-linejoin="miter" stroke-miterlimit="10"/>
<polygon points="450.21,357.53 450.21,375.04 432.99,366.29" fill="none" stroke="#aaaa00" stroke-width="3.3" stroke-linejoin="miter" stroke-miterlimit="10"/>
<polygon points="501.07,279.94 501.07,297.46 483.85,288.7" fill="none" stroke="#aaaa00" stroke-width="3.3" stroke-linejoin="miter" stroke-miterlimit="10"/>
<polygon points="551.93,202.36 551.93,219.88 534.71,211.12" fill="none" stroke="#aaaa00" stroke-width="3.3" stroke-linejoin="miter" stroke-miterlimit="10"/>
<polygon points="602.79,124.78 602.79,142.29 585.58,133.54" fill="none" stroke="#aaaa00" stroke-width="3.3" stroke-linejoin="miter" stroke-miterlimit="10"/>
<polygon points="77.2,915.52 97.97,915.52 87.59,895.02" fill="none" stroke="#aaaa00" stroke-width="1.8" stroke-linejoin="miter" stroke-miterlimit="10"/>
<polygon points="138.8,839.17 159.57,839.17 149.19,818.66" fill="none" stroke="#aaaa00" stroke-width="1.8" stroke-linejoin="miter" stroke-miterlimit="10"/>
<polygon points="200.41,762.82 221.18,762.82 210.79,742.31" fill="none" stroke="#aaaa00" stroke-width="1.8" stroke-linejoin="miter" stroke-miterlimit="10"/>
<polygon points="262.01,686.47 282.78,686.47 272.4,665.96" fill="none" stroke="#aaaa00" stroke-width="1.8" stroke-linejoin="miter" stroke-miterlimit="10"/>
<polygon points="323.61,610.12 344.39,610.12 334,589.61" fill="none" stroke="#aaaa00" stroke-width="1.8" stroke-linejoin="miter" stroke-miterlimit="10"/>
<polygon points="385.22,533.76 405.99,533.76 395.6,513.26" fill="none" stroke="#aaaa00" stroke-width="1.8" stroke-linejoin="miter" stroke-miterlimit="10"/>
<polygon points="446.82,457.41 467.59,457.41 457.21,436.91" fill="none" stroke="#aaaa00" stroke-width="1.8" stroke-linejoin="miter" stroke-miterlimit="10"/>
<polygon points="508.43,381.06 529.2,381.06 518.81,360.55" fill="none" stroke="#aaaa00" stroke-width="1.8" stroke-linejoin="miter" stroke-miterlimit="10"/>
<polygon points="570.03,304.71 590.8,304.71 580.41,284.2" fill="none" stroke="#aaaa00" stroke-width="1.8" stroke-linejoin="miter" stroke-miterlimit="10"/>
<polygon points="631.63,228.36 652.4,228.36 642.02,207.85" fill="none" stroke="#aaaa00" stroke-width="1.8" stroke-linejoin="miter" stroke-miterlimit="10"/>
<polygon points="693.24,152.01 714.01,152.01 703.62,131.5" fill="none" stroke="#aaaa00" stroke-width="1.8" stroke-linejoin="miter" stroke-miterlimit="10"/>
<path d="M73.59 909.38H94.19M83.89 898.98V919.78" fill="none" stroke="#aaaa00" stroke-width="3.6"/>
<path d="M152.68 833.97H173.28M162.98 823.57V844.37" fill="none" stroke="#aaaa00" stroke-width="3.6"/>
<path d="M231.78 758.56H252.38M242.08 748.16V768.96" fill="none" stroke="#aaaa00" stroke-width="3.6"/>
<path d="M310.88 683.15H331.48M321.18 672.75V693.55" fill="none" stroke="#aaaa00" stroke-width="3.6"/>
<path d="M389.98 607.74H410.58M400.28 597.34V618.14" fill="none" stroke="#aaaa00" stroke-width="3.6"/>
<path d="M469.07 532.33H489.67M479.37 521.93V542.73" fill="none" stroke="#aaaa00" stroke-width="3.6"/>
<path d="M548.17 456.91H568.77M558.47 446.51V467.31" fill="none" stroke="#aaaa00" stroke-width="3.6"/>
<path d="M627.27 381.5H647.87M637.57 371.1V391.9" fill="none" stroke="#aaaa00" stroke-width="3.6"/>
<path d="M706.37 306.09H726.97M716.67 295.69V316.49" fill="none" stroke="#aaaa00" stroke-width="3.6"/>
<path d="M785.47 230.68H806.07M795.77 220.28V241.08" fill="none" stroke="#aaaa00" stroke-width="3.6"/>
<path d="M864.56 155.27H885.16M874.86 144.87V165.67" fill="none" stroke="#aaaa00" stroke-width="3.6"/>
</g>
</g>
<g stroke="#000" stroke-width="2.7" fill="none" stroke-linecap="butt">
<rect x="85.5" y="58.4" width="847.9" height="847.5"/>
<path d="M108.3 905.9v-5.3M108.3 58.4v5.3M132.56 905.9v-5.3M132.56 58.4v5.3M156.82 905.9v-5.3M156.82 58.4v5.3M181.08 905.9v-5.3M181.08 58.4v5.3M205.34 905.9v-8.5M205.34 58.4v8.5M229.6 905.9v-5.3M229.6 58.4v5.3M253.86 905.9v-5.3M253.86 58.4v5.3M278.12 905.9v-5.3M278.12 58.4v5.3M302.38 905.9v-5.3M302.38 58.4v5.3M326.64 905.9v-8.5M326.64 58.4v8.5M350.9 905.9v-5.3M350.9 58.4v5.3M375.16 905.9v-5.3M375.16 58.4v5.3M399.42 905.9v-5.3M399.42 58.4v5.3M423.68 905.9v-5.3M423.68 58.4v5.3M447.94 905.9v-8.5M447.94 58.4v8.5M472.2 905.9v-5.3M472.2 58.4v5.3M496.46 905.9v-5.3M496.46 58.4v5.3M520.72 905.9v-5.3M520.72 58.4v5.3M544.98 905.9v-5.3M544.98 58.4v5.3M569.24 905.9v-8.5M569.24 58.4v8.5M593.5 905.9v-5.3M593.5 58.4v5.3M617.76 905.9v-5.3M617.76 58.4v5.3M642.02 905.9v-5.3M642.02 58.4v5.3M666.28 905.9v-5.3M666.28 58.4v5.3M690.54 905.9v-8.5M690.54 58.4v8.5M714.8 905.9v-5.3M714.8 58.4v5.3M739.06 905.9v-5.3M739.06 58.4v5.3M763.32 905.9v-5.3M763.32 58.4v5.3M787.58 905.9v-5.3M787.58 58.4v5.3M811.84 905.9v-8.5M811.84 58.4v8.5M836.1 905.9v-5.3M836.1 58.4v5.3M860.36 905.9v-5.3M860.36 58.4v5.3M884.62 905.9v-5.3M884.62 58.4v5.3M908.88 905.9v-5.3M908.88 58.4v5.3M85.5 881.69h5.3M933.4 881.69h-5.3M85.5 857.47h5.3M933.4 857.47h-5.3M85.5 833.26h5.3M933.4 833.26h-5.3M85.5 809.04h5.3M933.4 809.04h-5.3M85.5 784.83h8.5M933.4 784.83h-8.5M85.5 760.62h5.3M933.4 760.62h-5.3M85.5 736.4h5.3M933.4 736.4h-5.3M85.5 712.19h5.3M933.4 712.19h-5.3M85.5 687.97h5.3M933.4 687.97h-5.3M85.5 663.76h8.5M933.4 663.76h-8.5M85.5 639.55h5.3M933.4 639.55h-5.3M85.5 615.33h5.3M933.4 615.33h-5.3M85.5 591.12h5.3M933.4 591.12h-5.3M85.5 566.9h5.3M933.4 566.9h-5.3M85.5 542.69h8.5M933.4 542.69h-8.5M85.5 518.48h5.3M933.4 518.48h-5.3M85.5 494.26h5.3M933.4 494.26h-5.3M85.5 470.05h5.3M933.4 470.05h-5.3M85.5 445.83h5.3M933.4 445.83h-5.3M85.5 421.62h8.5M933.4 421.62h-8.5M85.5 397.41h5.3M933.4 397.41h-5.3M85.5 373.19h5.3M933.4 373.19h-5.3M85.5 348.98h5.3M933.4 348.98h-5.3M85.5 324.76h5.3M933.4 324.76h-5.3M85.5 300.55h8.5M933.4 300.55h-8.5M85.5 276.34h5.3M933.4 276.34h-5.3M85.5 252.12h5.3M933.4 252.12h-5.3M85.5 227.91h5.3M933.4 227.91h-5.3M85.5 203.69h5.3M933.4 203.69h-5.3M85.5 179.48h8.5M933.4 179.48h-8.5M85.5 155.27h5.3M933.4 155.27h-5.3M85.5 131.05h5.3M933.4 131.05h-5.3M85.5 106.84h5.3M933.4 106.84h-5.3M85.5 82.62h5.3M933.4 82.62h-5.3" stroke-width="2.5"/>
</g>
<g font-size="19.5">
<text x="205.34" y="928.3" text-anchor="middle">0.001</text>
<text x="326.64" y="928.3" text-anchor="middle">0.002</text>
<text x="447.94" y="928.3" text-anchor="middle">0.003</text>
<text x="569.24" y="928.3" text-anchor="middle">0.004</text>
<text x="690.54" y="928.3" text-anchor="middle">0.005</text>
<text x="811.84" y="928.3" text-anchor="middle">0.006</text>
<text x="933.14" y="928.3" text-anchor="middle">0.007</text>
<text x="78.6" y="912.2" text-anchor="end">0</text>
<text x="78.6" y="791.13" text-anchor="end">1</text>
<text x="78.6" y="670.06" text-anchor="end">2</text>
<text x="78.6" y="548.99" text-anchor="end">3</text>
<text x="78.6" y="427.92" text-anchor="end">4</text>
<text x="78.6" y="306.85" text-anchor="end">5</text>
<text x="78.6" y="185.78" text-anchor="end">6</text>
<text x="78.6" y="64.71" text-anchor="end">7</text>
</g>
<rect x="125.3" y="91.15" width="157.8" height="340.75" rx="10.8" ry="10.8" fill="none" stroke="#000" stroke-width="2.4"/>
<circle cx="162.2" cy="132" r="9.66" fill="none" stroke="#000" stroke-width="1.38"/>
<text y="136.9" font-size="22.4"><tspan class="i" x="190.3" font-size="24">α</tspan><tspan x="209.4">=</tspan><tspan x="227.6">0</tspan></text>
<polygon points="154.7,167.19 170.1,167.19 162.4,182.86" fill="none" stroke="#000" stroke-width="1.34" stroke-linejoin="miter" stroke-miterlimit="10"/>
<text y="180.62" font-size="22.4"><tspan class="i" x="190.3" font-size="24">α</tspan><tspan x="209.4">=</tspan><tspan x="227.6">0.4</tspan></text>
<polygon points="154.48,220 162.3,211.57 170.12,220 162.3,228.43" fill="none" stroke="#000" stroke-width="1.34" stroke-linejoin="miter" stroke-miterlimit="10"/>
<text y="224.34" font-size="22.4"><tspan class="i" x="190.3" font-size="24">α</tspan><tspan x="209.4">=</tspan><tspan x="227.6">0.8</tspan></text>
<polygon points="156.53,257.6 168.27,257.6 168.27,269.2 156.53,269.2" fill="none" stroke="#000" stroke-width="1.38" stroke-linejoin="miter" stroke-miterlimit="10"/>
<text y="268.06" font-size="22.4"><tspan class="i" x="190.3" font-size="24">α</tspan><tspan x="209.4">=</tspan><tspan x="227.2">1</tspan></text>
<polygon points="169.84,301.73 169.84,314.67 157.13,308.2" fill="none" stroke="#000" stroke-width="2.6" stroke-linejoin="miter" stroke-miterlimit="10"/>
<text y="311.78" font-size="22.4"><tspan class="i" x="190.3" font-size="24">α</tspan><tspan x="209.4">=</tspan><tspan x="227.2">1.2</tspan></text>
<polygon points="154.67,359.97 170.13,359.97 162.4,344.69" fill="none" stroke="#000" stroke-width="1.42" stroke-linejoin="miter" stroke-miterlimit="10"/>
<text y="355.5" font-size="22.4"><tspan class="i" x="190.3" font-size="24">α</tspan><tspan x="209.4">=</tspan><tspan x="227.2">1.6</tspan></text>
<path d="M154.58 395.9H170.03M162.3 388.1V403.7" fill="none" stroke="#000" stroke-width="2.84"/>
<text y="399.22" font-size="22.4"><tspan class="i" x="190.3" font-size="24">α</tspan><tspan x="209.4">=</tspan><tspan x="227.6">2</tspan></text>
<rect x="652.0" y="518.85" width="223.6" height="316.8" rx="10.6" ry="10.6" fill="none" stroke="#000" stroke-width="2.4"/>
<rect x="674.2" y="542.7" width="20.6" height="20.5" fill="#000000" stroke="#000000" stroke-width="0.7"/>
<text y="560.6" font-size="21.3"><tspan x="707.3">EMTVII</tspan><tspan x="786.0">(</tspan><tspan class="i">β</tspan> ≈ 0)</text>
<rect x="674.2" y="577.51" width="20.6" height="20.5" fill="#ff0000" stroke="#aa0000" stroke-width="0.7"/>
<text y="595.45" font-size="21.3"><tspan class="i" x="708.3">β</tspan><tspan x="726.4">=</tspan><tspan x="744.9">0.01</tspan></text>
<rect x="674.2" y="612.32" width="20.6" height="20.5" fill="#0000ff" stroke="#0000aa" stroke-width="0.7"/>
<text y="630.3" font-size="21.3"><tspan class="i" x="708.3">β</tspan><tspan x="726.4">=</tspan><tspan x="744.9">0.03</tspan></text>
<rect x="674.2" y="647.13" width="20.6" height="20.5" fill="#00aaaa" stroke="#007171" stroke-width="0.7"/>
<text y="665.15" font-size="21.3"><tspan class="i" x="708.3">β</tspan><tspan x="726.4">=</tspan><tspan x="744.9">0.1</tspan></text>
<rect x="674.2" y="681.94" width="20.6" height="20.5" fill="#00aa00" stroke="#007100" stroke-width="0.7"/>
<text y="700" font-size="21.3"><tspan class="i" x="708.3">β</tspan><tspan x="726.4">=</tspan><tspan x="744.1">1</tspan></text>
<rect x="674.2" y="716.75" width="20.6" height="20.5" fill="#aa5500" stroke="#713800" stroke-width="0.7"/>
<text y="734.85" font-size="21.3"><tspan class="i" x="708.3">β</tspan><tspan x="726.4">=</tspan><tspan x="744.1">10</tspan></text>
<rect x="674.2" y="751.56" width="20.6" height="20.5" fill="#aa00aa" stroke="#710071" stroke-width="0.7"/>
<text y="769.7" font-size="21.3"><tspan class="i" x="708.3">β</tspan><tspan x="726.4">=</tspan><tspan x="744.9">30</tspan></text>
<rect x="674.2" y="786.37" width="20.6" height="20.5" fill="#aaaa00" stroke="#717100" stroke-width="0.7"/>
<text y="804.55" font-size="21.3"><tspan class="i" x="708.3">β</tspan><tspan x="726.4">=</tspan><tspan x="744.9">50</tspan></text>
<g class="ax" font-size="42.5">
<text y="989.2"><tspan class="i" x="423.2">ρ</tspan><tspan class="i" font-size="30.3" x="447" dy="7">c</tspan><tspan x="474.2" dy="-7">(</tspan><tspan x="489.6">km</tspan><tspan font-size="30.03" x="546.6" dy="-18.6">−</tspan><tspan font-size="33" x="564">2</tspan><tspan x="584" dy="18.6">)</tspan></text>
</g>
<g class="ax" transform="translate(38.8 562.5) rotate(-90)" font-size="42.5">
<text y="0"><tspan class="i" font-size="45" x="-0.3">M</tspan><tspan class="i" font-size="32.8" x="36" dy="8.0">N</tspan><tspan x="70.5" dy="-8.0">(</tspan><tspan class="i" font-size="45" x="86">M</tspan><tspan x="146.7">)</tspan></text>
<circle cx="133.7" cy="7" r="9.9" fill="none" stroke="#000" stroke-width="2.2"/><circle cx="133.7" cy="7" r="2.4" fill="#000"/>
</g>
</svg></body></html>
